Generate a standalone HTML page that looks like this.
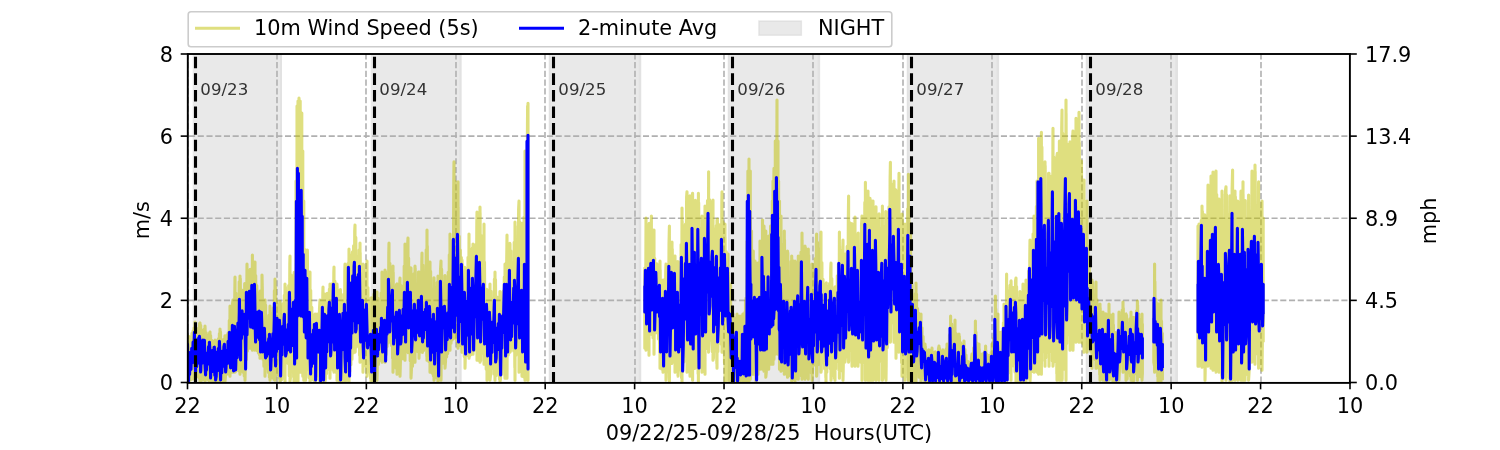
<!DOCTYPE html>
<html lang="en"><head><meta charset="utf-8"><title>10m Wind Speed</title>
<style>html,body{margin:0;padding:0;background:#fff;}body{width:1500px;height:450px;overflow:hidden;}svg{display:block;font-family:"DejaVu Sans", "Liberation Sans", sans-serif;}svg{will-change:transform;}.t14{font-size:20.83px;fill:#000;}.t10{font-size:16.67px;fill:#333;}</style></head><body>
<svg width="1500" height="450" viewBox="0 0 1500 450">
<rect x="0" y="0" width="1500" height="450" fill="#fff"/>
<defs><clipPath id="ax"><rect x="187.5" y="54" width="1162.5" height="328.5"/></clipPath></defs>
<g clip-path="url(#ax)">
<rect x="192.70" y="54" width="89.30" height="328.5" fill="#d3d3d3" fill-opacity="0.5"/>
<rect x="280.00" y="54" width="2.00" height="328.5" fill="#d3d3d3" fill-opacity="0.3"/>
<rect x="370.80" y="54" width="90.80" height="328.5" fill="#d3d3d3" fill-opacity="0.5"/>
<rect x="459.45" y="54" width="2.15" height="328.5" fill="#d3d3d3" fill-opacity="0.3"/>
<rect x="548.80" y="54" width="92.40" height="328.5" fill="#d3d3d3" fill-opacity="0.5"/>
<rect x="638.90" y="54" width="2.30" height="328.5" fill="#d3d3d3" fill-opacity="0.3"/>
<rect x="548.80" y="54" width="2.00" height="328.5" fill="#d3d3d3" fill-opacity="0.3"/>
<rect x="727.80" y="54" width="92.30" height="328.5" fill="#d3d3d3" fill-opacity="0.5"/>
<rect x="817.65" y="54" width="2.45" height="328.5" fill="#d3d3d3" fill-opacity="0.3"/>
<rect x="727.80" y="54" width="2.00" height="328.5" fill="#d3d3d3" fill-opacity="0.3"/>
<rect x="906.80" y="54" width="92.30" height="328.5" fill="#d3d3d3" fill-opacity="0.5"/>
<rect x="996.50" y="54" width="2.60" height="328.5" fill="#d3d3d3" fill-opacity="0.3"/>
<rect x="906.80" y="54" width="2.00" height="328.5" fill="#d3d3d3" fill-opacity="0.3"/>
<rect x="1085.80" y="54" width="92.20" height="328.5" fill="#d3d3d3" fill-opacity="0.5"/>
<rect x="1175.25" y="54" width="2.75" height="328.5" fill="#d3d3d3" fill-opacity="0.3"/>
<rect x="1085.80" y="54" width="2.00" height="328.5" fill="#d3d3d3" fill-opacity="0.3"/>
<line x1="188.00" y1="382.5" x2="188.00" y2="54" stroke="#b0b0b0" stroke-width="1.6" stroke-dasharray="6.1 2.63"/>
<line x1="277.00" y1="382.5" x2="277.00" y2="54" stroke="#b0b0b0" stroke-width="1.6" stroke-dasharray="6.1 2.63"/>
<line x1="366.00" y1="382.5" x2="366.00" y2="54" stroke="#b0b0b0" stroke-width="1.6" stroke-dasharray="6.1 2.63"/>
<line x1="456.00" y1="382.5" x2="456.00" y2="54" stroke="#b0b0b0" stroke-width="1.6" stroke-dasharray="6.1 2.63"/>
<line x1="545.00" y1="382.5" x2="545.00" y2="54" stroke="#b0b0b0" stroke-width="1.6" stroke-dasharray="6.1 2.63"/>
<line x1="635.00" y1="382.5" x2="635.00" y2="54" stroke="#b0b0b0" stroke-width="1.6" stroke-dasharray="6.1 2.63"/>
<line x1="724.00" y1="382.5" x2="724.00" y2="54" stroke="#b0b0b0" stroke-width="1.6" stroke-dasharray="6.1 2.63"/>
<line x1="813.00" y1="382.5" x2="813.00" y2="54" stroke="#b0b0b0" stroke-width="1.6" stroke-dasharray="6.1 2.63"/>
<line x1="903.00" y1="382.5" x2="903.00" y2="54" stroke="#b0b0b0" stroke-width="1.6" stroke-dasharray="6.1 2.63"/>
<line x1="992.00" y1="382.5" x2="992.00" y2="54" stroke="#b0b0b0" stroke-width="1.6" stroke-dasharray="6.1 2.63"/>
<line x1="1082.00" y1="382.5" x2="1082.00" y2="54" stroke="#b0b0b0" stroke-width="1.6" stroke-dasharray="6.1 2.63"/>
<line x1="1171.00" y1="382.5" x2="1171.00" y2="54" stroke="#b0b0b0" stroke-width="1.6" stroke-dasharray="6.1 2.63"/>
<line x1="1261.00" y1="382.5" x2="1261.00" y2="54" stroke="#b0b0b0" stroke-width="1.6" stroke-dasharray="6.1 2.63"/>
<line x1="1350.00" y1="382.5" x2="1350.00" y2="54" stroke="#b0b0b0" stroke-width="1.6" stroke-dasharray="6.1 2.63"/>
<line x1="187.5" y1="300.38" x2="1350" y2="300.38" stroke="#b0b0b0" stroke-width="1.6" stroke-dasharray="6.1 2.63" stroke-dashoffset="-1.5"/>
<line x1="187.5" y1="218.25" x2="1350" y2="218.25" stroke="#b0b0b0" stroke-width="1.6" stroke-dasharray="6.1 2.63" stroke-dashoffset="-1.5"/>
<line x1="187.5" y1="136.12" x2="1350" y2="136.12" stroke="#b0b0b0" stroke-width="1.6" stroke-dasharray="6.1 2.63" stroke-dashoffset="-1.5"/>
<g fill="none" stroke-linejoin="round" stroke-linecap="butt">
<path d="M187.5 336.2 L188.0 336.0 L188.0 381.4 L188.1 381.4 L188.6 336.4 L189.2 381.0 L189.7 337.5 L190.2 380.1 L190.8 336.7 L191.3 379.7 L191.9 333.4 L192.4 378.6 L193.0 331.1 L193.6 376.9 L194.1 327.7 L194.7 379.2 L195.0 322.0 L195.0 380.2 L195.2 324.0 L195.8 373.8 L196.3 328.1 L196.8 375.4 L197.4 331.3 L197.9 376.4 L198.5 331.5 L199.1 378.1 L199.6 323.5 L200.0 323.0 L200.0 381.2 L200.2 381.0 L200.7 325.4 L201.2 381.0 L201.8 330.3 L202.3 379.5 L202.9 331.1 L203.4 377.1 L204.0 329.2 L204.6 380.3 L205.0 326.0 L205.0 381.4 L205.1 327.6 L205.7 377.5 L206.2 332.8 L206.8 378.2 L207.3 335.4 L207.8 379.4 L208.4 336.4 L208.9 380.6 L209.5 333.3 L210.0 332.0 L210.0 381.4 L210.1 381.4 L210.6 335.5 L211.2 381.0 L211.7 340.4 L212.2 380.9 L212.8 341.3 L213.3 380.7 L213.9 341.3 L214.4 381.2 L215.0 340.0 L215.0 340.0 L215.0 381.4 L215.6 381.3 L216.1 341.5 L216.7 381.1 L217.2 340.8 L217.8 381.1 L218.3 338.7 L218.8 381.1 L219.4 333.5 L219.9 381.4 L220.0 329.0 L220.0 381.4 L220.5 331.7 L221.1 379.7 L221.6 339.7 L222.2 380.3 L222.7 340.0 L223.2 381.2 L223.8 339.3 L224.3 380.9 L224.9 335.9 L225.0 336.0 L225.0 381.4 L225.4 377.1 L226.0 336.9 L226.6 373.8 L227.1 334.8 L227.7 373.9 L228.2 332.8 L228.8 373.8 L229.3 320.4 L229.8 374.5 L230.0 306.0 L230.0 376.2 L230.4 310.8 L230.9 372.5 L231.5 318.2 L232.1 371.6 L232.6 303.2 L233.0 300.0 L233.0 372.2 L233.2 372.2 L233.7 319.2 L234.2 371.7 L234.8 293.1 L235.0 277.0 L235.0 372.2 L235.3 371.9 L235.9 293.0 L236.4 370.0 L237.0 303.8 L237.6 369.8 L238.1 298.4 L238.7 370.6 L239.2 281.8 L239.8 373.0 L240.0 276.0 L240.0 374.2 L240.3 278.4 L240.8 367.6 L241.4 290.0 L241.9 369.3 L242.5 290.3 L243.1 372.2 L243.6 299.4 L244.2 376.0 L244.7 283.5 L245.0 284.0 L245.0 380.2 L245.2 370.5 L245.8 293.5 L246.3 359.6 L246.9 277.0 L247.0 264.0 L247.4 351.0 L248.0 273.3 L248.6 343.7 L249.1 274.6 L249.7 345.8 L250.0 270.0 L250.0 348.2 L250.2 269.2 L250.8 339.7 L251.3 280.6 L251.9 336.9 L252.4 262.5 L252.4 255.0 L252.4 350.2 L252.9 348.5 L253.5 275.3 L254.1 348.9 L254.6 266.8 L255.0 262.0 L255.0 350.2 L255.2 350.1 L255.7 275.6 L256.2 349.5 L256.8 285.6 L257.4 350.8 L257.9 293.2 L258.4 352.9 L259.0 294.9 L259.6 355.3 L260.0 292.0 L260.0 358.2 L260.1 291.1 L260.6 354.9 L261.2 301.9 L261.8 354.9 L262.0 275.0 L262.3 287.5 L262.9 359.2 L263.4 308.2 L263.9 366.3 L264.5 301.7 L265.0 300.0 L265.0 376.2 L265.1 371.4 L265.6 305.1 L266.1 363.9 L266.7 323.7 L267.2 368.1 L267.8 322.0 L268.4 372.4 L268.9 315.2 L269.4 377.3 L270.0 306.0 L270.0 306.0 L270.0 380.2 L270.6 376.5 L271.1 314.2 L271.6 373.8 L272.2 313.5 L272.8 377.8 L273.3 307.8 L273.9 379.4 L274.4 290.5 L274.9 380.2 L275.0 279.0 L275.0 380.2 L275.5 287.3 L276.1 375.0 L276.6 301.0 L277.1 372.3 L277.7 304.5 L278.2 374.4 L278.8 306.7 L279.4 378.4 L279.9 301.5 L280.0 302.0 L280.0 381.4 L280.4 379.6 L281.0 307.5 L281.6 379.8 L282.1 306.9 L282.6 378.3 L283.2 303.5 L283.8 364.2 L284.3 295.2 L284.9 378.9 L285.0 284.0 L285.0 381.4 L285.4 286.9 L285.9 360.0 L286.5 300.5 L287.1 359.0 L287.6 294.8 L288.1 363.4 L288.7 285.6 L289.2 375.7 L289.8 263.8 L290.0 256.0 L290.0 381.4 L290.4 378.1 L290.9 274.8 L291.4 369.8 L292.0 289.6 L292.6 364.1 L293.1 280.6 L293.6 377.1 L294.0 274.0 L294.0 381.4 L294.2 272.2 L294.8 373.9 L295.3 289.7 L295.9 380.3 L296.0 181.0 L296.0 381.4 L296.4 218.2 L296.9 380.2 L297.0 106.0 L297.0 381.4 L297.5 176.6 L298.0 101.0 L298.0 381.4 L298.1 372.2 L298.6 115.4 L299.0 98.0 L299.0 372.2 L299.1 372.2 L299.7 119.6 L300.2 101.0 L300.2 372.2 L300.2 372.2 L300.8 131.7 L301.4 372.2 L301.8 113.0 L301.8 372.2 L301.9 175.7 L302.4 372.2 L302.8 151.0 L302.8 376.2 L303.0 211.9 L303.6 374.4 L303.8 201.0 L303.8 380.2 L304.1 251.5 L304.6 370.9 L305.2 252.5 L305.6 250.0 L305.6 380.2 L305.8 374.3 L306.3 250.8 L306.9 357.7 L307.4 267.8 L307.4 250.0 L307.9 369.8 L308.5 288.0 L309.1 377.7 L309.6 278.7 L310.0 272.0 L310.0 381.4 L310.1 381.0 L310.7 290.4 L311.2 379.7 L311.8 307.2 L312.4 379.3 L312.9 315.6 L313.5 379.8 L314.0 316.2 L314.6 381.1 L315.0 314.0 L315.0 381.4 L315.1 314.0 L315.6 380.6 L316.2 318.7 L316.8 375.7 L317.0 314.0 L317.3 314.0 L317.9 375.0 L318.4 320.1 L319.0 379.9 L319.5 308.7 L320.0 300.0 L320.0 381.4 L320.1 381.4 L320.6 304.2 L321.1 381.4 L321.7 307.6 L322.2 381.4 L322.8 293.1 L323.0 287.0 L323.0 381.4 L323.4 380.7 L323.9 304.5 L324.5 379.0 L325.0 294.0 L325.0 294.0 L325.0 381.4 L325.6 378.7 L326.1 300.2 L326.6 373.5 L327.2 293.4 L327.8 366.6 L328.3 299.0 L328.9 369.6 L329.4 289.1 L330.0 376.1 L330.0 284.0 L330.0 378.2 L330.5 285.9 L331.1 365.9 L331.6 290.4 L332.1 367.8 L332.7 283.4 L333.2 370.2 L333.8 272.9 L334.0 267.0 L334.0 372.2 L334.4 366.6 L334.9 281.0 L335.5 361.9 L336.0 287.9 L336.6 373.0 L337.0 284.0 L337.0 380.2 L337.1 286.6 L337.6 378.7 L338.2 294.0 L338.8 380.5 L339.3 293.1 L339.9 381.0 L340.0 290.0 L340.0 381.4 L340.4 289.6 L341.0 381.2 L341.5 301.0 L342.1 380.7 L342.6 300.3 L343.1 379.0 L343.7 294.3 L344.2 375.5 L344.8 271.3 L345.0 264.0 L345.0 381.4 L345.4 380.8 L345.9 271.3 L346.5 379.3 L347.0 276.4 L347.6 380.3 L348.1 263.2 L348.6 377.4 L349.0 249.0 L349.0 381.4 L349.2 252.7 L349.8 371.6 L350.3 256.1 L350.9 364.8 L351.4 255.2 L352.0 359.2 L352.5 251.7 L353.1 352.9 L353.6 245.8 L354.1 350.9 L354.7 231.0 L355.0 225.0 L355.0 352.2 L355.2 351.5 L355.8 237.4 L356.4 346.9 L356.9 256.6 L357.5 344.6 L358.0 256.3 L358.6 342.5 L359.1 249.9 L359.6 355.6 L360.0 243.0 L360.0 362.2 L360.2 252.8 L360.8 357.4 L361.3 266.9 L361.9 356.6 L362.4 266.4 L363.0 367.7 L363.0 264.0 L363.0 372.2 L363.5 264.6 L364.1 364.9 L364.6 286.1 L365.1 357.8 L365.7 285.5 L366.2 366.8 L366.8 270.2 L367.0 261.0 L367.0 376.2 L367.4 372.7 L367.9 287.5 L368.5 368.0 L369.0 305.5 L369.6 371.2 L370.1 304.0 L370.6 378.5 L371.0 298.0 L371.0 381.4 L371.2 297.7 L371.8 376.3 L372.3 311.5 L372.9 379.7 L373.4 299.9 L374.0 381.1 L374.0 294.0 L374.0 381.4 L374.5 296.0 L375.1 377.5 L375.6 319.8 L376.1 371.7 L376.7 293.0 L377.0 292.0 L377.0 380.2 L377.2 373.5 L377.8 298.0 L378.4 364.4 L378.9 312.2 L379.5 358.0 L380.0 314.4 L380.6 358.8 L381.1 293.1 L381.6 361.2 L382.0 272.0 L382.0 362.2 L382.2 276.0 L382.8 360.4 L383.3 290.5 L383.9 359.8 L384.4 275.1 L385.0 362.0 L385.0 270.0 L385.0 362.2 L385.5 271.4 L386.1 354.4 L386.6 284.7 L387.1 346.6 L387.7 279.1 L388.2 342.9 L388.8 252.4 L389.0 243.0 L389.0 342.2 L389.4 342.0 L389.9 263.4 L390.5 339.8 L391.0 277.5 L391.6 345.6 L392.1 273.0 L392.6 358.3 L393.0 266.0 L393.0 372.2 L393.2 272.3 L393.8 366.3 L394.3 286.7 L394.9 366.1 L395.4 295.3 L396.0 368.0 L396.5 284.6 L397.0 284.0 L397.0 374.2 L397.1 373.5 L397.6 285.9 L398.1 364.4 L398.7 301.2 L399.2 358.8 L399.8 280.8 L400.0 278.0 L400.0 376.2 L400.4 362.4 L400.9 285.2 L401.5 351.5 L402.0 289.8 L402.6 358.8 L403.1 286.7 L403.6 358.3 L404.2 266.0 L404.8 357.2 L405.0 244.0 L405.0 360.2 L405.3 250.1 L405.9 347.3 L406.4 273.5 L407.0 340.2 L407.5 246.4 L408.0 238.0 L408.0 352.2 L408.1 352.6 L408.6 258.1 L409.1 351.5 L409.7 276.8 L410.2 360.8 L410.8 267.8 L411.0 268.0 L411.0 378.2 L411.4 370.5 L411.9 275.1 L412.5 366.2 L413.0 284.0 L413.6 362.4 L414.1 273.6 L414.6 361.1 L415.0 266.0 L415.0 362.2 L415.2 268.1 L415.8 347.8 L416.3 289.9 L416.9 346.4 L417.4 288.5 L418.0 351.7 L418.5 272.1 L419.0 272.0 L419.0 358.2 L419.1 354.5 L419.6 274.0 L420.1 341.3 L420.7 286.6 L421.2 346.5 L421.8 261.9 L422.0 253.0 L422.0 352.2 L422.4 352.3 L422.9 265.0 L423.5 350.6 L424.0 276.3 L424.6 348.8 L425.1 273.1 L425.6 348.1 L426.2 249.7 L426.8 356.3 L427.0 230.0 L427.0 360.2 L427.3 246.0 L427.9 356.2 L428.4 277.7 L429.0 361.8 L429.5 265.9 L430.0 262.0 L430.0 372.2 L430.1 367.6 L430.6 271.3 L431.1 371.5 L431.7 290.0 L432.2 373.2 L432.8 295.0 L433.4 376.0 L433.9 277.8 L434.0 278.0 L434.0 380.2 L434.5 377.7 L435.0 287.2 L435.6 377.5 L436.1 294.4 L436.7 376.3 L437.2 282.4 L437.8 379.9 L438.0 276.0 L438.0 381.4 L438.3 276.4 L438.9 376.9 L439.4 284.5 L440.0 364.6 L440.5 269.9 L441.0 261.0 L441.0 380.2 L441.1 376.0 L441.6 269.1 L442.2 363.5 L442.7 283.4 L443.2 353.9 L443.8 286.6 L444.4 361.3 L444.9 275.6 L445.0 276.0 L445.0 368.2 L445.5 361.6 L446.0 284.6 L446.6 357.0 L447.1 283.1 L447.7 353.4 L448.2 272.2 L448.8 349.9 L449.3 254.8 L449.9 347.0 L450.0 234.0 L450.0 350.2 L450.4 240.7 L451.0 343.3 L451.5 259.5 L452.1 340.0 L452.6 240.9 L453.2 338.7 L453.7 188.8 L454.0 161.7 L454.0 338.2 L454.2 338.1 L454.8 181.1 L455.4 336.8 L455.9 210.5 L456.5 340.3 L457.0 205.4 L457.6 343.8 L458.0 181.7 L458.0 348.2 L458.1 207.1 L458.7 345.4 L459.2 236.4 L459.8 344.4 L460.3 250.0 L460.9 345.8 L461.4 257.6 L462.0 350.8 L462.0 260.0 L462.0 352.2 L462.5 264.6 L463.1 350.4 L463.6 274.8 L464.2 356.6 L464.7 267.2 L465.0 268.0 L465.0 368.2 L465.2 361.4 L465.8 271.5 L466.4 355.6 L466.9 272.8 L467.5 354.8 L468.0 257.4 L468.6 355.5 L469.0 234.0 L469.0 358.2 L469.1 243.3 L469.7 356.1 L470.2 249.2 L470.8 354.8 L471.3 265.8 L471.9 354.2 L472.4 247.8 L473.0 354.2 L473.0 244.0 L473.0 354.2 L473.5 244.8 L474.1 350.3 L474.6 259.5 L475.2 346.3 L475.7 244.6 L476.2 346.6 L476.8 223.2 L477.0 212.0 L477.0 360.2 L477.4 358.9 L477.9 222.6 L478.5 360.1 L479.0 222.5 L479.6 361.0 L480.0 207.0 L480.0 362.2 L480.1 212.5 L480.7 360.6 L481.2 235.6 L481.8 353.1 L482.3 258.4 L482.9 353.3 L483.4 241.8 L484.0 363.2 L484.0 224.0 L484.0 364.2 L484.5 262.0 L485.1 364.1 L485.6 289.7 L486.2 369.3 L486.7 289.4 L487.0 290.0 L487.0 380.2 L487.2 373.2 L487.8 293.5 L488.4 368.4 L488.9 298.4 L489.5 371.8 L490.0 286.4 L490.0 284.0 L490.0 380.2 L490.6 374.5 L491.1 291.4 L491.7 366.8 L492.2 300.0 L492.8 368.3 L493.3 298.3 L493.9 374.0 L494.4 279.1 L495.0 379.9 L495.0 272.0 L495.0 380.2 L495.5 279.5 L496.1 375.7 L496.6 296.7 L497.2 372.9 L497.7 297.3 L498.2 374.1 L498.8 301.5 L499.4 379.3 L499.9 291.6 L500.0 292.0 L500.0 381.4 L500.5 379.2 L501.0 297.0 L501.6 374.4 L502.1 296.9 L502.7 368.2 L503.2 291.1 L503.8 363.8 L504.3 277.1 L504.9 376.0 L505.0 264.0 L505.0 378.2 L505.4 268.5 L506.0 376.9 L506.5 277.4 L507.0 235.0 L507.0 378.2 L507.1 367.2 L507.6 246.3 L508.2 354.9 L508.7 261.9 L509.2 351.1 L509.8 243.4 L510.0 244.0 L510.0 352.2 L510.4 351.1 L510.9 250.7 L511.5 345.9 L512.0 262.2 L512.5 347.2 L513.1 264.1 L513.7 351.1 L514.2 242.3 L514.8 367.5 L515.0 222.0 L515.0 380.2 L515.3 226.0 L515.9 355.2 L516.4 248.4 L517.0 348.4 L517.5 255.3 L518.0 347.4 L518.6 209.4 L519.0 201.0 L519.0 372.2 L519.2 371.6 L519.7 221.7 L520.2 367.0 L520.8 248.4 L521.4 371.4 L521.9 223.2 L522.0 224.0 L522.0 376.2 L522.5 375.2 L523.0 236.6 L523.5 376.7 L524.1 217.1 L524.7 378.1 L525.0 151.0 L525.0 380.2 L525.2 175.3 L525.8 374.4 L526.3 176.9 L526.9 371.3 L527.4 134.3 L527.6 106.0 L527.6 380.2 L528.0 380.2 L528.0 123.6 L528.0 103.3 L528.0 111.0 L528.0 380.2 L528.0 380.2 M644.8 274.1 L644.8 270.0 L644.8 268.0 L644.8 332.2 L644.8 348.2 L645.3 348.3 L645.9 250.5 L646.0 218.0 L646.0 350.2 L646.4 343.7 L647.0 237.3 L647.5 339.1 L648.1 239.4 L648.6 345.7 L649.0 224.0 L649.0 355.2 L649.2 223.3 L649.8 333.3 L650.3 251.4 L650.8 322.2 L651.4 222.5 L651.4 216.0 L651.4 334.2 L651.9 334.6 L652.5 253.7 L653.0 337.7 L653.6 241.3 L654.0 230.0 L654.0 354.2 L654.1 341.8 L654.7 258.2 L655.2 332.7 L655.8 264.6 L656.3 332.7 L656.4 264.0 L656.4 332.2 L656.9 263.8 L657.4 327.3 L658.0 270.6 L658.5 339.0 L659.1 268.0 L659.6 352.2 L660.0 261.0 L660.0 368.2 L660.2 269.9 L660.8 363.7 L661.3 281.1 L661.8 369.1 L662.4 281.2 L662.9 370.5 L663.0 280.0 L663.0 372.2 L663.5 280.0 L664.0 364.3 L664.6 288.7 L665.1 368.7 L665.7 272.0 L666.0 264.0 L666.0 380.2 L666.2 376.1 L666.8 269.8 L667.3 371.6 L667.9 264.6 L668.4 365.1 L669.0 243.9 L669.4 226.0 L669.4 381.4 L669.5 371.5 L670.1 244.9 L670.6 363.3 L671.2 254.8 L671.8 363.4 L672.0 242.0 L672.0 362.2 L672.3 249.0 L672.8 355.0 L673.4 261.0 L673.9 361.7 L674.5 257.8 L675.0 256.0 L675.0 372.2 L675.0 368.1 L675.6 261.2 L676.1 364.1 L676.7 275.4 L677.2 357.5 L677.8 261.6 L678.0 262.0 L678.0 376.2 L678.3 371.3 L678.9 267.2 L679.4 363.7 L680.0 265.9 L680.5 369.7 L681.1 244.5 L681.6 377.9 L682.0 208.0 L682.0 381.4 L682.2 221.5 L682.8 371.8 L683.3 225.7 L683.8 362.1 L684.4 226.9 L684.9 355.9 L685.5 224.0 L686.0 353.6 L686.6 196.9 L687.0 191.7 L687.0 372.2 L687.1 372.1 L687.7 201.6 L688.2 370.1 L688.8 230.0 L689.3 372.1 L689.9 195.9 L690.0 196.0 L690.0 376.2 L690.4 374.1 L691.0 226.1 L691.5 374.9 L692.1 196.9 L692.6 193.3 L692.6 380.2 L692.6 373.9 L693.2 204.7 L693.8 366.5 L694.3 211.8 L694.8 368.5 L695.0 201.0 L695.0 368.2 L695.4 200.4 L695.9 361.1 L696.5 225.1 L697.0 360.0 L697.6 205.8 L698.1 373.8 L698.4 193.3 L698.4 381.4 L698.7 202.8 L699.2 367.7 L699.8 228.2 L700.3 360.1 L700.9 230.2 L701.4 366.1 L702.0 216.0 L702.0 216.0 L702.0 372.2 L702.5 371.3 L703.1 224.6 L703.6 370.4 L704.2 218.6 L704.8 368.0 L705.0 206.0 L705.0 374.2 L705.3 209.0 L705.8 348.8 L706.4 219.4 L706.9 330.9 L707.5 200.5 L708.0 343.4 L708.6 183.1 L708.6 171.7 L708.6 352.2 L709.1 342.8 L709.7 199.9 L710.2 331.7 L710.8 202.0 L711.3 340.3 L711.9 215.0 L712.4 351.7 L713.0 206.0 L713.0 200.0 L713.0 360.2 L713.5 357.9 L714.1 229.0 L714.6 344.2 L715.2 242.8 L715.8 351.1 L716.3 225.5 L716.8 363.5 L717.0 220.0 L717.0 368.2 L717.4 219.0 L717.9 351.4 L718.5 234.5 L719.0 338.0 L719.6 224.7 L720.1 335.3 L720.7 226.5 L721.2 344.2 L721.8 202.5 L722.0 191.7 L722.0 352.2 L722.3 351.6 L722.9 221.8 L723.4 348.6 L724.0 234.3 L724.5 363.0 L725.0 224.0 L725.0 381.4 L725.1 237.0 L725.6 376.2 L726.2 251.5 L726.8 380.2 L727.3 260.5 L727.8 380.3 L728.0 254.0 L728.0 380.2 L728.4 272.5 L728.9 380.3 L729.5 290.8 L730.0 380.7 L730.6 299.0 L730.6 284.0 L730.6 381.4 L731.1 375.2 L731.7 318.3 L732.2 377.0 L732.8 314.0 L733.0 314.0 L733.0 381.4 L733.3 381.4 L733.9 317.4 L734.4 381.4 L735.0 322.7 L735.5 381.4 L736.1 318.3 L736.6 381.4 L737.0 314.0 L737.0 381.4 L737.2 314.9 L737.8 381.2 L738.3 332.8 L738.8 381.2 L739.4 320.2 L739.9 381.2 L740.0 316.0 L740.0 381.2 L740.5 317.2 L741.0 378.4 L741.6 335.7 L742.1 376.4 L742.7 315.0 L743.0 314.0 L743.0 381.2 L743.2 380.5 L743.8 318.9 L744.3 378.3 L744.9 312.3 L745.4 381.1 L745.5 301.0 L745.5 381.2 L746.0 298.0 L746.5 380.4 L747.1 241.3 L747.6 381.0 L747.9 171.0 L747.9 381.2 L748.2 197.4 L748.8 379.7 L749.0 159.0 L749.0 381.2 L749.3 189.2 L749.8 376.1 L750.3 171.0 L750.3 379.2 L750.4 215.6 L750.9 374.2 L751.5 256.0 L751.5 231.0 L751.5 374.2 L752.0 374.2 L752.6 253.9 L753.1 374.2 L753.3 251.0 L753.3 374.2 L753.7 264.5 L754.2 374.2 L754.8 290.4 L755.0 261.0 L755.0 374.2 L755.3 374.2 L755.9 263.0 L756.0 263.0 L756.0 381.2 L756.4 375.1 L757.0 289.2 L757.5 366.5 L758.0 263.0 L758.0 374.2 L758.1 263.0 L758.6 361.4 L759.2 290.3 L759.8 364.8 L760.0 241.0 L760.0 369.2 L760.3 250.9 L760.8 365.0 L761.4 258.0 L761.9 366.7 L762.5 246.6 L762.5 220.0 L762.5 369.2 L763.0 369.2 L763.6 230.4 L764.0 226.0 L764.0 371.2 L764.1 369.8 L764.7 231.2 L765.2 371.4 L765.8 248.8 L765.8 231.0 L765.8 377.2 L766.3 372.4 L766.9 263.0 L767.4 369.3 L768.0 245.0 L768.5 366.4 L768.7 236.0 L768.7 369.2 L769.1 271.1 L769.6 343.6 L770.2 259.0 L770.6 226.0 L770.6 364.2 L770.8 364.2 L771.3 245.3 L771.8 364.0 L772.3 201.0 L772.3 364.2 L772.4 226.8 L772.9 358.6 L773.0 181.0 L773.0 364.2 L773.5 201.0 L774.0 168.3 L774.0 359.2 L774.0 354.4 L774.6 188.9 L775.1 353.0 L775.3 141.0 L775.3 354.2 L775.7 160.9 L776.2 352.4 L776.8 165.0 L777.0 100.0 L777.0 352.2 L777.3 352.5 L777.9 195.4 L778.0 141.0 L778.0 354.2 L778.4 352.7 L778.6 181.0 L778.6 354.2 L779.0 210.2 L779.5 201.0 L779.5 369.2 L779.5 360.3 L780.1 260.5 L780.6 368.4 L781.0 216.0 L781.0 371.2 L781.2 243.3 L781.8 365.5 L782.3 262.6 L782.8 364.9 L783.4 246.2 L783.9 371.0 L784.3 231.0 L784.3 374.2 L784.5 239.8 L785.0 369.1 L785.6 272.7 L786.1 371.5 L786.7 258.9 L787.2 375.2 L787.5 251.0 L787.5 377.2 L787.8 252.8 L788.3 374.7 L788.9 291.2 L789.4 374.5 L790.0 288.6 L790.5 375.9 L791.1 261.4 L791.6 380.0 L791.7 256.0 L791.7 381.2 L792.2 259.8 L792.8 379.4 L793.3 282.7 L793.8 375.9 L794.4 263.6 L794.9 380.1 L795.0 261.0 L795.0 381.2 L795.5 262.2 L796.0 378.4 L796.6 288.2 L797.1 375.2 L797.7 262.9 L798.2 378.7 L798.3 256.0 L798.3 379.2 L798.8 258.3 L799.3 367.2 L799.9 273.0 L800.4 369.7 L801.0 252.1 L801.5 376.2 L802.0 233.0 L802.0 379.2 L802.1 239.8 L802.6 368.4 L803.2 256.1 L803.8 358.6 L804.3 252.5 L804.8 376.2 L805.0 246.0 L805.0 379.2 L805.4 247.5 L805.9 368.6 L806.5 282.3 L807.0 372.1 L807.6 255.3 L808.1 378.4 L808.3 249.0 L808.3 379.2 L808.7 255.5 L809.2 371.3 L809.8 279.5 L810.3 364.7 L810.9 277.8 L811.4 373.3 L812.0 264.0 L812.0 264.0 L812.0 380.2 L812.5 371.5 L813.1 274.5 L813.6 361.7 L814.2 266.0 L814.8 364.9 L815.3 258.5 L815.8 358.2 L816.4 243.1 L816.6 234.0 L816.6 376.2 L816.9 372.5 L817.5 242.4 L818.0 364.8 L818.6 264.4 L819.1 357.8 L819.7 249.1 L820.2 362.8 L820.8 242.4 L821.0 232.0 L821.0 372.2 L821.3 369.7 L821.9 262.6 L822.4 362.9 L823.0 279.3 L823.5 362.6 L824.1 284.5 L824.6 368.7 L825.2 284.3 L825.8 377.5 L826.0 284.0 L826.0 381.4 L826.3 282.7 L826.8 372.2 L827.4 288.4 L827.9 363.4 L828.5 286.6 L829.0 360.5 L829.6 283.3 L830.1 368.6 L830.7 269.3 L831.0 263.0 L831.0 380.2 L831.2 378.7 L831.8 278.6 L832.3 372.5 L832.9 289.2 L833.4 375.4 L834.0 289.0 L834.5 378.6 L835.0 288.0 L835.0 380.2 L835.1 286.7 L835.6 368.8 L836.2 287.0 L836.8 360.3 L837.3 275.7 L837.8 361.5 L838.4 264.3 L838.9 369.9 L839.4 232.0 L839.4 378.2 L839.5 246.0 L840.0 371.3 L840.6 250.6 L841.1 359.3 L841.7 254.3 L842.2 366.6 L842.8 247.0 L843.0 240.0 L843.0 380.2 L843.3 366.3 L843.9 265.6 L844.4 362.2 L845.0 254.0 L845.0 254.0 L845.0 362.2 L845.5 357.0 L846.1 259.6 L846.6 346.7 L847.2 246.2 L847.8 350.4 L848.3 220.2 L848.6 196.0 L848.6 362.2 L848.8 360.1 L849.4 222.3 L849.9 350.5 L850.5 251.4 L851.0 338.1 L851.6 223.5 L852.0 224.0 L852.0 366.2 L852.1 362.0 L852.7 229.2 L853.2 345.0 L853.8 240.8 L854.3 349.5 L854.9 223.2 L855.0 217.0 L855.0 366.2 L855.4 350.6 L856.0 235.6 L856.5 349.7 L857.1 243.1 L857.6 362.4 L858.0 234.0 L858.0 366.2 L858.2 233.1 L858.8 349.4 L859.3 249.3 L859.8 352.4 L860.4 253.1 L860.9 362.2 L861.5 224.9 L862.0 216.0 L862.0 380.2 L862.0 373.8 L862.6 221.2 L863.1 353.7 L863.7 226.9 L864.2 362.6 L864.8 202.4 L865.3 379.4 L865.4 182.3 L865.4 380.2 L865.9 190.8 L866.4 375.9 L867.0 212.4 L867.5 379.1 L868.0 191.0 L868.0 380.2 L868.1 195.7 L868.6 380.2 L869.2 216.4 L869.8 380.2 L870.0 198.3 L870.0 380.2 L870.3 199.7 L870.8 380.2 L871.4 224.5 L871.9 380.2 L872.5 204.1 L873.0 201.0 L873.0 380.2 L873.0 380.1 L873.6 209.0 L874.1 378.2 L874.7 231.1 L875.2 378.7 L875.8 209.1 L876.0 206.7 L876.0 380.2 L876.3 366.0 L876.9 224.1 L877.4 357.7 L878.0 234.4 L878.5 372.8 L879.0 214.0 L879.0 380.2 L879.1 213.8 L879.6 360.3 L880.2 242.6 L880.8 352.5 L881.3 228.9 L881.8 361.5 L882.4 208.8 L882.4 206.0 L882.4 380.2 L882.9 378.1 L883.5 226.2 L884.0 373.7 L884.6 237.6 L885.1 374.5 L885.7 211.5 L886.0 212.0 L886.0 380.2 L886.2 365.6 L886.8 216.6 L887.3 347.6 L887.9 223.8 L888.4 333.2 L889.0 206.7 L889.5 335.0 L890.1 179.2 L890.4 162.3 L890.4 342.2 L890.6 338.9 L891.2 183.8 L891.8 323.1 L892.3 214.1 L892.8 313.4 L893.4 189.4 L894.0 340.1 L894.0 181.0 L894.0 342.2 L894.5 228.6 L895.0 316.0 L895.6 189.8 L896.0 191.0 L896.0 358.2 L896.1 344.4 L896.7 201.7 L897.2 326.3 L897.8 218.4 L898.3 338.0 L898.9 188.2 L899.0 173.3 L899.0 352.2 L899.5 350.3 L900.0 215.5 L900.5 351.5 L901.1 227.3 L901.6 362.8 L902.0 214.0 L902.0 376.2 L902.2 218.7 L902.8 371.8 L903.3 239.1 L903.8 374.7 L904.4 229.4 L905.0 378.4 L905.0 224.0 L905.0 380.2 L905.5 224.8 L906.0 358.0 L906.6 240.0 L907.1 364.0 L907.7 208.7 L908.2 377.8 L908.4 174.3 L908.4 380.2 L908.8 210.4 L909.3 380.2 L909.9 244.5 L910.5 380.2 L910.6 224.0 L910.6 380.2 L911.0 262.0 L911.5 372.5 L912.1 284.8 L912.6 374.4 L913.0 298.0 L913.0 381.4 L913.2 297.0 L913.8 370.3 L914.3 301.7 L914.8 371.0 L915.4 293.6 L916.0 380.9 L916.0 283.0 L916.0 381.4 L916.5 294.1 L917.0 366.5 L917.6 308.6 L918.1 367.9 L918.7 313.4 L919.2 377.2 L919.8 316.4 L920.3 374.5 L920.9 319.8 L921.0 314.0 L921.0 381.4 L921.5 377.1 L922.0 327.8 L922.5 374.5 L923.1 336.5 L923.6 378.1 L924.2 344.3 L924.8 381.2 L925.0 344.0 L925.0 381.4 L925.3 346.2 L925.8 381.3 L926.4 351.3 L927.0 381.4 L927.5 353.9 L928.0 381.4 L928.6 349.9 L929.0 350.0 L929.0 381.4 L929.1 381.4 L929.7 350.6 L930.2 381.4 L930.8 351.6 L931.3 381.4 L931.9 349.5 L932.0 348.0 L932.0 381.4 L932.5 381.4 L933.0 352.4 L933.5 381.4 L934.1 354.1 L934.6 381.4 L935.0 352.0 L935.0 381.4 L935.2 351.7 L935.8 381.4 L936.3 353.8 L936.8 381.4 L937.4 352.9 L938.0 381.4 L938.5 348.6 L939.0 346.0 L939.0 381.4 L939.0 381.4 L939.6 348.2 L940.1 381.4 L940.7 351.8 L941.2 381.4 L941.8 352.3 L942.3 381.4 L942.9 349.9 L943.0 350.0 L943.0 381.4 L943.5 381.4 L944.0 351.2 L944.5 381.4 L945.1 351.4 L945.6 381.4 L946.2 348.9 L946.8 381.4 L947.0 344.0 L947.0 381.4 L947.3 345.4 L947.8 381.4 L948.4 344.3 L949.0 381.4 L949.5 334.9 L950.0 381.4 L950.6 325.3 L950.6 316.0 L950.6 381.4 L951.1 381.4 L951.7 324.0 L952.2 380.7 L952.8 330.9 L953.3 380.3 L953.9 328.9 L954.5 380.8 L955.0 324.2 L955.0 320.0 L955.0 381.4 L955.5 381.0 L956.1 333.5 L956.6 380.8 L957.2 340.0 L957.8 381.3 L958.3 336.5 L958.8 381.4 L959.0 334.0 L959.0 381.4 L959.4 336.2 L960.0 381.4 L960.5 342.5 L961.0 381.4 L961.6 344.3 L962.1 381.4 L962.7 344.2 L963.2 381.4 L963.8 344.2 L964.0 341.0 L964.0 381.4 L964.3 381.4 L964.9 349.2 L965.5 381.4 L966.0 355.1 L966.5 381.4 L967.1 361.3 L967.6 381.4 L968.0 362.0 L968.0 381.4 L968.2 361.6 L968.8 381.4 L969.3 364.2 L969.8 381.4 L970.4 362.7 L971.0 381.4 L971.5 357.6 L972.0 354.0 L972.0 381.4 L972.0 381.4 L972.6 355.4 L973.1 381.4 L973.7 347.7 L974.2 381.4 L974.8 338.0 L975.3 381.4 L975.4 321.0 L975.4 381.4 L975.9 332.0 L976.5 381.4 L977.0 343.1 L977.5 381.4 L978.1 347.4 L978.6 381.4 L979.0 344.0 L979.0 381.4 L979.2 348.7 L979.8 381.4 L980.3 355.9 L980.8 381.4 L981.4 354.9 L982.0 381.4 L982.0 354.0 L982.0 381.4 L982.5 353.9 L983.0 381.4 L983.6 356.0 L984.1 381.4 L984.7 351.4 L985.2 381.4 L985.6 346.0 L985.6 381.4 L985.8 350.1 L986.3 381.4 L986.9 354.4 L987.5 381.4 L988.0 356.2 L988.5 381.4 L989.0 356.0 L989.0 381.4 L989.1 355.6 L989.6 381.4 L990.2 357.2 L990.8 381.4 L991.3 352.4 L991.8 381.4 L992.0 344.0 L992.0 381.4 L992.4 347.2 L993.0 381.4 L993.5 338.5 L994.0 381.4 L994.6 324.8 L995.1 381.4 L995.4 296.0 L995.4 381.4 L995.7 308.7 L996.2 381.4 L996.8 323.6 L997.3 381.4 L997.9 321.3 L998.0 314.0 L998.0 381.4 L998.5 381.4 L999.0 332.4 L999.5 381.4 L1000.1 335.3 L1000.6 381.4 L1001.0 334.0 L1001.0 381.4 L1001.2 332.0 L1001.8 381.4 L1002.3 336.3 L1002.8 381.4 L1003.4 322.8 L1004.0 381.4 L1004.0 304.0 L1004.0 381.4 L1004.5 311.5 L1005.0 381.4 L1005.6 307.9 L1006.1 381.4 L1006.6 274.0 L1006.6 381.4 L1006.7 286.7 L1007.2 379.5 L1007.8 291.0 L1008.3 371.0 L1008.9 292.0 L1009.5 364.6 L1010.0 285.3 L1010.5 373.5 L1011.0 281.0 L1011.0 380.2 L1011.1 280.9 L1011.6 360.6 L1012.2 291.4 L1012.8 361.8 L1013.3 287.5 L1013.8 365.9 L1014.4 290.8 L1015.0 372.1 L1015.5 281.0 L1016.0 278.0 L1016.0 381.4 L1016.0 381.3 L1016.6 286.5 L1017.1 381.1 L1017.7 302.7 L1018.2 381.1 L1018.8 298.5 L1019.3 381.3 L1019.9 291.6 L1020.0 292.0 L1020.0 381.4 L1020.5 381.3 L1021.0 298.6 L1021.5 381.2 L1022.1 299.2 L1022.6 381.3 L1023.0 284.0 L1023.0 381.4 L1023.2 286.7 L1023.8 381.2 L1024.3 301.3 L1024.8 380.9 L1025.4 285.2 L1026.0 381.4 L1026.0 280.0 L1026.0 381.4 L1026.5 281.6 L1027.0 378.5 L1027.6 285.1 L1028.2 376.5 L1028.7 271.0 L1029.2 377.9 L1029.8 254.0 L1030.0 240.0 L1030.0 381.4 L1030.3 375.9 L1030.9 246.5 L1031.5 371.3 L1032.0 245.5 L1032.5 371.5 L1033.1 233.7 L1033.7 371.8 L1034.0 216.0 L1034.0 372.2 L1034.2 222.0 L1034.8 368.7 L1035.3 226.2 L1035.8 360.5 L1036.4 206.4 L1037.0 371.6 L1037.0 181.0 L1037.0 372.2 L1037.5 189.2 L1038.0 372.2 L1038.6 176.3 L1038.6 138.3 L1038.6 374.2 L1039.2 369.1 L1039.7 155.2 L1040.2 353.5 L1040.8 142.3 L1041.3 370.8 L1041.4 132.3 L1041.4 374.2 L1041.9 147.0 L1042.5 351.7 L1043.0 175.2 L1043.5 344.2 L1044.1 172.1 L1044.7 360.9 L1045.0 161.7 L1045.0 366.2 L1045.2 165.8 L1045.8 357.7 L1046.3 205.6 L1046.8 345.7 L1047.4 201.7 L1048.0 352.5 L1048.5 173.5 L1049.0 173.3 L1049.0 366.2 L1049.0 365.4 L1049.6 177.4 L1050.2 347.5 L1050.7 194.8 L1051.2 351.6 L1051.8 176.0 L1052.3 360.9 L1052.9 142.9 L1053.0 128.3 L1053.0 366.2 L1053.5 359.3 L1054.0 157.2 L1054.5 349.8 L1055.1 174.9 L1055.7 361.6 L1056.2 161.8 L1056.8 373.7 L1057.0 155.0 L1057.0 380.2 L1057.3 153.3 L1057.8 371.1 L1058.4 182.1 L1059.0 369.5 L1059.4 141.0 L1059.4 380.2 L1059.5 147.4 L1060.0 380.2 L1060.6 197.4 L1061.2 380.2 L1061.7 127.9 L1062.0 110.0 L1062.0 380.2 L1062.2 378.6 L1062.8 133.4 L1063.3 369.3 L1063.9 164.4 L1064.5 356.4 L1065.0 137.2 L1065.5 360.0 L1066.0 100.0 L1066.0 380.2 L1066.1 113.6 L1066.7 343.4 L1067.2 144.0 L1067.8 326.1 L1068.3 171.1 L1068.8 334.7 L1069.4 146.9 L1070.0 349.4 L1070.0 141.7 L1070.0 350.2 L1070.5 142.0 L1071.0 343.1 L1071.6 174.2 L1072.2 342.4 L1072.7 136.3 L1073.0 131.0 L1073.0 350.2 L1073.2 337.5 L1073.8 144.6 L1074.3 307.5 L1074.9 158.9 L1075.5 330.8 L1076.0 123.4 L1076.0 118.3 L1076.0 342.2 L1076.5 341.4 L1077.1 145.8 L1077.7 339.8 L1078.2 142.6 L1078.8 341.2 L1079.0 112.3 L1079.0 342.2 L1079.3 142.7 L1079.8 337.9 L1080.4 193.0 L1081.0 341.1 L1081.4 161.0 L1081.4 342.2 L1081.5 170.5 L1082.0 342.2 L1082.6 207.0 L1083.2 344.3 L1083.7 186.3 L1084.0 180.0 L1084.0 352.2 L1084.2 345.1 L1084.8 201.0 L1085.3 337.4 L1085.9 214.8 L1086.5 341.5 L1087.0 220.0 L1087.0 201.0 L1087.0 352.2 L1087.5 345.2 L1088.1 246.0 L1088.7 342.0 L1089.2 267.0 L1089.8 342.9 L1090.3 282.6 L1090.8 351.2 L1091.4 282.3 L1092.0 363.7 L1092.0 280.0 L1092.0 368.2 L1092.5 281.9 L1093.0 354.6 L1093.6 301.2 L1094.2 354.0 L1094.7 295.1 L1095.2 359.7 L1095.8 287.5 L1096.0 282.0 L1096.0 368.2 L1096.3 367.6 L1096.9 299.6 L1097.5 366.0 L1098.0 310.6 L1098.5 368.1 L1099.1 308.3 L1099.7 374.4 L1100.0 304.0 L1100.0 380.2 L1100.2 307.7 L1100.8 376.9 L1101.3 320.9 L1101.8 376.1 L1102.4 314.2 L1103.0 380.0 L1103.0 312.0 L1103.0 380.2 L1103.5 313.4 L1104.0 380.2 L1104.6 321.6 L1105.2 380.6 L1105.7 313.8 L1106.0 314.0 L1106.0 381.4 L1106.2 380.9 L1106.8 316.1 L1107.3 379.0 L1107.9 316.3 L1108.5 377.7 L1109.0 308.0 L1109.0 304.0 L1109.0 380.2 L1109.5 379.4 L1110.1 314.7 L1110.7 378.3 L1111.2 322.3 L1111.8 377.7 L1112.3 319.6 L1112.8 380.5 L1113.0 314.0 L1113.0 381.4 L1113.4 324.7 L1114.0 381.4 L1114.5 337.0 L1115.0 381.4 L1115.6 332.5 L1116.0 334.0 L1116.0 381.4 L1116.2 380.8 L1116.7 334.9 L1117.2 374.8 L1117.8 333.6 L1118.3 374.2 L1118.9 321.5 L1119.0 312.0 L1119.0 380.2 L1119.5 368.4 L1120.0 317.1 L1120.5 361.5 L1121.1 318.3 L1121.7 358.5 L1122.2 310.1 L1122.8 369.6 L1123.0 302.0 L1123.0 372.2 L1123.3 308.0 L1123.8 364.9 L1124.4 317.6 L1125.0 370.3 L1125.5 314.3 L1126.0 314.0 L1126.0 380.2 L1126.0 377.1 L1126.6 315.3 L1127.2 379.1 L1127.7 323.5 L1128.2 372.8 L1128.8 325.8 L1129.3 370.1 L1129.9 318.9 L1130.5 376.5 L1131.0 315.6 L1131.0 312.0 L1131.0 380.2 L1131.5 371.2 L1132.1 327.4 L1132.7 378.1 L1133.0 318.0 L1133.0 381.4 L1133.2 317.2 L1133.8 380.4 L1134.3 320.9 L1134.8 373.7 L1135.4 317.3 L1136.0 369.3 L1136.5 310.7 L1137.0 372.8 L1137.4 301.0 L1137.4 380.2 L1137.6 305.0 L1138.2 372.7 L1138.7 314.0 L1139.2 370.5 L1139.8 319.4 L1140.3 376.8 L1140.9 320.0 L1141.5 376.3 L1142.0 326.9 L1142.0 314.0 L1142.0 380.2 L1142.4 373.1 L1142.4 324.0 L1142.4 372.2 M1153.8 302.3 L1153.8 304.0 L1153.8 362.2 L1154.4 365.6 L1154.6 264.0 L1154.6 372.2 L1154.9 281.6 L1155.5 364.4 L1156.0 299.5 L1156.6 369.7 L1157.1 306.2 L1157.7 376.6 L1158.0 304.0 L1158.0 381.4 L1158.2 303.7 L1158.8 379.8 L1159.3 311.2 L1159.9 380.0 L1160.4 309.4 L1161.0 381.0 L1161.0 300.0 L1161.0 381.4 L1161.5 320.9 L1162.1 373.9 L1162.4 333.2 L1162.4 334.0 L1162.4 380.2 M1198.0 246.9 L1198.0 234.0 L1198.0 226.0 L1198.0 352.2 L1198.0 366.2 L1198.5 365.3 L1199.0 224.0 L1199.0 366.2 L1199.1 234.6 L1199.7 362.8 L1200.2 231.0 L1200.8 364.7 L1201.3 220.4 L1201.8 366.6 L1202.0 206.0 L1202.0 367.2 L1202.4 211.3 L1203.0 358.6 L1203.5 241.3 L1204.0 360.4 L1204.6 214.7 L1205.0 216.0 L1205.0 380.2 L1205.2 371.5 L1205.7 221.2 L1206.2 355.1 L1206.8 230.5 L1207.3 354.7 L1207.9 198.4 L1208.0 185.0 L1208.0 366.2 L1208.5 356.9 L1209.0 208.9 L1209.5 337.1 L1210.1 203.7 L1210.7 359.3 L1211.0 176.0 L1211.0 368.2 L1211.2 179.0 L1211.8 360.8 L1212.3 226.3 L1212.8 367.8 L1213.0 172.0 L1213.0 370.2 L1213.4 173.6 L1214.0 331.6 L1214.5 212.2 L1215.0 337.1 L1215.6 178.7 L1216.0 171.0 L1216.0 372.2 L1216.2 368.7 L1216.7 194.5 L1217.2 350.5 L1217.8 225.2 L1218.3 357.0 L1218.9 199.0 L1219.0 200.0 L1219.0 372.2 L1219.5 357.0 L1220.0 218.8 L1220.5 363.0 L1221.1 217.6 L1221.7 375.9 L1222.0 191.0 L1222.0 381.4 L1222.2 194.0 L1222.8 378.4 L1223.3 240.3 L1223.8 370.3 L1224.4 228.5 L1225.0 363.7 L1225.5 190.2 L1226.0 186.7 L1226.0 380.2 L1226.0 379.2 L1226.6 194.9 L1227.2 368.2 L1227.7 223.2 L1228.2 372.1 L1228.8 214.3 L1229.3 377.9 L1229.9 195.8 L1230.0 196.0 L1230.0 381.4 L1230.5 379.7 L1231.0 217.8 L1231.5 374.7 L1232.1 188.2 L1232.6 170.0 L1232.6 380.2 L1232.7 379.1 L1233.2 191.6 L1233.8 360.0 L1234.3 213.3 L1234.8 377.7 L1235.0 191.0 L1235.0 380.2 L1235.4 196.7 L1236.0 358.7 L1236.5 226.8 L1237.0 368.0 L1237.6 201.0 L1238.0 201.7 L1238.0 380.2 L1238.2 375.9 L1238.7 205.8 L1239.2 358.0 L1239.8 219.8 L1240.3 374.1 L1240.9 195.6 L1241.0 191.0 L1241.0 380.2 L1241.5 380.2 L1242.0 217.6 L1242.5 380.2 L1243.0 181.7 L1243.0 380.2 L1243.1 194.2 L1243.7 380.2 L1244.2 220.3 L1244.8 380.2 L1245.0 201.0 L1245.0 380.2 L1245.3 200.5 L1245.8 367.1 L1246.4 223.4 L1247.0 371.9 L1247.5 221.9 L1248.0 375.0 L1248.6 197.0 L1248.6 195.0 L1248.6 380.2 L1249.2 369.6 L1249.7 211.1 L1250.2 356.7 L1250.8 218.4 L1251.3 347.6 L1251.9 180.2 L1252.0 171.0 L1252.0 362.2 L1252.5 355.0 L1253.0 187.8 L1253.5 348.3 L1254.1 184.0 L1254.7 359.8 L1255.0 165.0 L1255.0 364.2 L1255.2 171.5 L1255.8 354.1 L1256.3 207.0 L1256.8 341.4 L1257.4 205.4 L1258.0 346.1 L1258.5 187.9 L1258.6 181.7 L1258.6 368.2 L1259.0 362.1 L1259.6 209.7 L1260.2 345.3 L1260.7 233.3 L1261.2 349.5 L1261.8 207.5 L1262.0 201.0 L1262.0 370.2 L1262.3 348.3 L1262.9 241.7 L1263.2 329.8 L1263.2 218.0 L1263.2 342.2" stroke="#bfbf00" stroke-opacity="0.5" stroke-width="3.1"/>
<path d="M187.5 346.2 L187.5 344.2 L188.2 374.5 L188.6 381.0 L188.9 354.6 L189.6 374.5 L190.3 352.3 L191.0 369.5 L191.7 348.3 L192.4 362.7 L193.1 342.1 L193.8 353.8 L194.4 332.2 L194.5 337.0 L195.2 364.1 L195.6 372.0 L195.9 349.5 L196.6 366.8 L197.3 339.8 L198.0 363.3 L198.7 337.9 L199.4 363.0 L199.4 336.2 L200.1 342.5 L200.6 372.0 L200.8 370.3 L201.5 341.4 L202.2 363.2 L202.9 340.1 L203.6 361.1 L204.3 340.9 L204.4 340.2 L205.0 364.8 L205.6 375.0 L205.7 359.8 L206.4 370.3 L207.1 353.0 L207.8 363.9 L208.5 346.8 L209.2 359.9 L209.4 342.2 L209.9 350.2 L210.6 377.0 L210.6 378.0 L211.3 355.8 L212.0 371.8 L212.7 350.4 L213.4 371.2 L214.1 347.4 L214.4 347.2 L214.8 375.2 L215.5 354.1 L215.6 380.0 L216.2 376.5 L216.9 352.1 L217.6 370.8 L218.3 348.5 L219.0 365.5 L219.4 341.2 L219.7 347.5 L220.4 374.3 L220.6 380.0 L221.1 355.1 L221.8 372.9 L222.5 351.1 L223.2 366.4 L223.9 346.6 L224.4 344.2 L224.6 359.8 L225.3 356.7 L225.6 372.0 L226.0 368.3 L226.7 350.3 L227.4 363.5 L228.1 341.2 L228.8 359.1 L229.4 332.2 L229.5 338.6 L230.2 362.7 L230.6 368.0 L230.9 347.6 L231.6 356.3 L232.3 331.2 L232.4 325.2 L233.0 358.1 L233.6 371.0 L233.7 344.4 L234.4 350.8 L234.4 326.2 L235.1 335.3 L235.6 370.0 L235.8 363.8 L236.5 331.6 L237.2 357.7 L237.9 323.1 L238.6 347.2 L239.3 310.5 L239.4 299.2 L240.0 348.6 L240.6 360.0 L240.7 328.6 L241.4 338.6 L242.1 310.7 L242.8 334.2 L243.5 315.2 L244.2 334.3 L244.4 314.2 L244.9 324.4 L245.6 352.5 L245.6 369.0 L246.3 314.8 L246.4 292.2 L247.0 334.6 L247.7 299.2 L248.4 318.2 L249.1 292.8 L249.4 291.2 L249.8 317.8 L250.5 305.4 L250.6 327.0 L251.2 319.8 L251.8 285.2 L251.9 292.1 L252.6 321.7 L253.0 328.0 L253.3 299.8 L254.0 316.1 L254.4 284.2 L254.7 295.5 L255.4 334.1 L255.6 342.0 L256.1 313.6 L256.8 336.2 L257.5 312.0 L258.2 337.3 L258.9 313.4 L259.4 311.2 L259.6 339.7 L260.3 321.9 L260.6 352.0 L261.0 343.3 L261.4 312.2 L261.7 322.0 L262.4 349.2 L262.6 352.0 L263.1 335.0 L263.8 344.2 L264.4 328.2 L264.5 331.1 L265.2 351.0 L265.6 358.0 L265.9 344.7 L266.6 356.5 L267.3 342.8 L268.0 353.9 L268.7 338.7 L269.4 348.2 L269.4 334.2 L270.1 345.3 L270.6 370.0 L270.8 366.9 L271.5 348.3 L272.2 356.6 L272.9 333.9 L273.6 345.4 L274.3 318.0 L274.4 303.2 L275.0 351.2 L275.6 366.0 L275.7 339.1 L276.4 351.7 L277.1 318.2 L277.8 347.1 L278.5 322.6 L279.2 348.8 L279.4 320.2 L279.9 329.1 L280.6 368.1 L280.6 376.0 L281.3 334.6 L282.0 354.9 L282.7 326.3 L283.4 344.4 L284.1 318.3 L284.4 314.2 L284.8 342.8 L285.5 332.7 L285.6 356.0 L286.2 353.4 L286.9 329.8 L287.6 350.2 L288.3 324.4 L289.0 338.2 L289.4 292.2 L289.7 304.8 L290.4 345.9 L290.6 352.0 L291.1 317.4 L291.8 345.6 L292.5 308.9 L293.2 336.4 L293.4 302.2 L293.9 312.9 L294.6 357.7 L294.6 364.0 L295.3 304.2 L295.4 300.2 L296.0 312.6 L296.4 201.2 L296.6 358.0 L296.7 303.1 L297.4 293.0 L297.4 168.2 L297.6 316.0 L298.1 235.7 L298.4 173.2 L298.6 314.0 L298.8 296.4 L299.5 219.0 L299.6 211.2 L299.6 315.0 L300.2 314.4 L300.8 316.0 L300.9 261.3 L301.2 190.2 L301.6 255.2 L302.2 216.2 L302.3 266.6 L302.4 316.0 L303.0 292.6 L303.2 254.2 L303.4 317.0 L303.7 289.4 L304.4 322.0 L304.4 332.0 L305.0 270.2 L305.1 278.0 L305.8 327.1 L306.2 338.0 L306.5 292.0 L306.8 278.2 L307.2 329.1 L307.9 319.2 L308.0 358.0 L308.6 348.9 L309.3 315.3 L309.4 312.2 L310.0 352.3 L310.6 374.0 L310.7 341.2 L311.4 366.8 L312.1 334.6 L312.8 363.4 L313.5 329.9 L314.2 353.6 L314.4 324.2 L314.9 332.5 L315.6 353.3 L315.6 380.0 L316.3 327.6 L316.4 323.2 L317.0 343.6 L317.6 352.0 L317.7 342.4 L318.4 346.5 L319.1 333.9 L319.4 330.2 L319.8 352.7 L320.5 353.2 L320.6 381.0 L321.2 371.5 L321.9 333.7 L322.4 307.2 L322.6 355.7 L323.3 330.4 L323.6 380.0 L324.0 358.5 L324.4 314.2 L324.7 318.0 L325.4 361.4 L325.6 368.0 L326.1 328.7 L326.8 351.9 L327.5 315.6 L328.2 341.9 L328.9 309.1 L329.4 302.2 L329.6 341.3 L330.3 316.4 L330.6 356.0 L331.0 350.4 L331.7 308.1 L332.4 341.9 L333.1 296.8 L333.4 284.2 L333.8 337.6 L334.5 309.6 L334.6 350.0 L335.2 343.2 L335.9 304.8 L336.4 298.2 L336.6 338.8 L337.3 323.5 L337.6 368.0 L338.0 361.3 L338.7 324.9 L339.4 346.5 L339.4 314.2 L340.1 329.9 L340.6 380.0 L340.8 372.9 L341.5 324.3 L342.2 350.0 L342.9 313.2 L343.6 346.3 L344.3 308.9 L344.4 304.2 L345.0 357.6 L345.6 372.0 L345.7 333.7 L346.4 360.9 L347.1 312.8 L347.8 346.9 L348.4 267.2 L348.5 287.4 L349.2 353.1 L349.6 376.0 L349.9 299.9 L350.6 348.1 L351.3 282.9 L352.0 332.9 L352.7 275.8 L353.4 320.7 L354.1 266.7 L354.4 262.2 L354.8 320.8 L355.5 278.9 L355.6 332.0 L356.2 329.0 L356.9 277.6 L357.6 322.8 L358.3 274.6 L359.0 313.9 L359.4 266.2 L359.7 284.7 L360.4 335.0 L360.6 342.0 L361.1 305.2 L361.8 336.7 L362.4 300.2 L362.5 302.0 L363.2 346.7 L363.6 358.0 L363.9 318.0 L364.6 340.7 L365.3 309.9 L366.0 325.5 L366.4 304.2 L366.7 317.2 L367.4 343.8 L367.6 348.0 L368.1 335.7 L368.8 344.1 L369.5 337.7 L370.2 344.9 L370.4 334.2 L370.9 341.4 L371.6 368.1 L371.6 372.0 L372.3 348.3 L373.0 356.6 L373.4 330.2 L373.7 338.6 L374.4 363.6 L374.6 380.0 L375.1 338.7 L375.8 350.4 L376.4 329.2 L376.5 331.0 L377.2 351.2 L377.6 356.0 L377.9 338.5 L378.6 349.8 L379.3 334.2 L380.0 342.2 L380.7 327.5 L381.4 336.2 L381.4 318.2 L382.1 329.6 L382.6 352.0 L382.8 350.3 L383.5 327.5 L384.2 342.9 L384.4 320.2 L384.9 324.6 L385.6 347.9 L385.6 361.0 L386.3 324.3 L387.0 334.2 L387.7 307.1 L388.4 321.3 L388.4 279.2 L389.1 300.1 L389.6 332.0 L389.8 331.2 L390.5 301.0 L391.2 321.2 L391.9 297.3 L392.4 290.2 L392.6 318.3 L393.3 316.8 L393.6 344.0 L394.0 339.5 L394.7 318.2 L395.4 335.2 L396.1 315.6 L396.4 312.2 L396.8 337.6 L397.5 325.7 L397.6 354.0 L398.2 342.1 L398.9 315.1 L399.4 310.2 L399.6 336.5 L400.3 315.6 L400.6 344.0 L401.0 341.9 L401.7 316.5 L402.4 334.8 L403.1 309.2 L403.8 325.6 L404.4 292.2 L404.5 300.8 L405.2 327.4 L405.6 342.0 L405.9 311.1 L406.6 318.6 L407.3 291.1 L407.4 282.2 L408.0 318.1 L408.6 328.0 L408.7 305.6 L409.4 321.3 L410.1 298.6 L410.4 292.2 L410.8 324.0 L411.5 322.5 L411.6 352.0 L412.2 339.8 L412.9 310.7 L413.6 330.3 L414.3 304.8 L414.4 304.2 L415.0 331.5 L415.6 340.0 L415.7 316.6 L416.4 333.3 L417.1 310.6 L417.8 322.2 L418.4 300.2 L418.5 304.6 L419.2 327.6 L419.6 336.0 L419.9 318.4 L420.6 325.3 L421.3 300.2 L421.4 296.2 L422.0 329.5 L422.6 342.0 L422.7 313.6 L423.4 338.3 L424.1 312.2 L424.8 329.8 L425.5 309.4 L426.2 319.0 L426.4 302.2 L426.9 314.6 L427.6 343.5 L427.6 346.0 L428.3 318.7 L429.0 335.6 L429.4 306.2 L429.7 312.4 L430.4 351.7 L430.6 360.0 L431.1 322.9 L431.8 352.5 L432.5 319.4 L433.2 342.4 L433.4 314.2 L433.9 324.2 L434.6 362.6 L434.6 364.0 L435.3 335.2 L436.0 350.6 L436.7 321.2 L437.4 333.3 L437.4 308.2 L438.1 332.5 L438.6 376.0 L438.8 356.3 L439.5 323.0 L440.2 324.2 L440.4 281.2 L440.9 307.7 L441.6 348.7 L441.6 352.0 L442.3 315.8 L443.0 328.5 L443.7 306.7 L444.4 327.7 L444.4 306.2 L445.1 317.2 L445.6 350.0 L445.8 343.2 L446.5 319.7 L447.2 339.8 L447.9 312.7 L448.6 335.8 L449.3 294.7 L449.4 284.2 L450.0 328.4 L450.6 338.0 L450.7 302.9 L451.4 328.1 L452.1 287.1 L452.8 303.1 L453.4 239.2 L453.5 265.1 L454.2 317.4 L454.6 332.0 L454.9 285.3 L455.6 315.2 L456.3 257.7 L457.0 302.2 L457.4 234.2 L457.7 254.5 L458.4 330.7 L458.6 342.0 L459.1 285.7 L459.8 321.4 L460.5 276.8 L461.2 302.6 L461.4 264.2 L461.9 291.2 L462.6 341.3 L462.6 344.0 L463.3 303.9 L464.0 331.3 L464.4 292.2 L464.7 298.8 L465.4 346.8 L465.6 354.0 L466.1 317.5 L466.8 335.5 L467.5 301.0 L468.2 312.3 L468.4 270.2 L468.9 294.6 L469.6 350.1 L469.6 352.0 L470.3 301.4 L471.0 334.0 L471.7 287.7 L472.4 322.6 L472.4 278.2 L473.1 296.3 L473.6 350.0 L473.8 339.4 L474.5 300.7 L475.2 317.1 L475.9 278.0 L476.4 256.2 L476.6 300.4 L477.3 297.2 L477.6 338.0 L478.0 326.7 L478.7 283.0 L479.4 294.5 L479.4 262.2 L480.1 295.2 L480.6 342.0 L480.8 335.0 L481.5 300.0 L482.2 317.8 L482.9 288.7 L483.4 284.2 L483.6 319.2 L484.3 312.6 L484.6 344.0 L485.0 337.2 L485.7 312.4 L486.4 329.1 L486.4 304.2 L487.1 318.5 L487.6 356.0 L487.8 352.3 L488.5 320.2 L489.2 341.2 L489.4 312.2 L489.9 322.0 L490.6 361.3 L490.6 364.0 L491.3 331.3 L492.0 352.5 L492.7 322.1 L493.4 339.5 L494.1 309.5 L494.4 300.2 L494.8 342.5 L495.5 327.9 L495.6 362.0 L496.2 358.0 L496.9 328.2 L497.6 349.8 L498.3 323.5 L499.0 338.4 L499.4 314.2 L499.7 324.2 L500.4 362.8 L500.6 375.0 L501.1 340.1 L501.8 348.1 L502.5 315.9 L503.2 332.8 L503.9 301.8 L504.4 284.2 L504.6 332.4 L505.3 308.2 L505.6 356.0 L506.0 337.6 L506.4 284.2 L506.7 290.4 L507.4 341.7 L507.6 352.0 L508.1 301.1 L508.8 323.4 L509.4 270.2 L509.5 283.3 L510.2 330.7 L510.6 340.0 L510.9 304.9 L511.6 336.6 L512.3 302.2 L513.0 323.2 L513.7 288.0 L514.4 313.6 L514.4 280.2 L515.1 294.9 L515.6 348.0 L515.8 341.0 L516.5 295.3 L517.2 323.8 L517.9 279.1 L518.4 258.2 L518.6 309.2 L519.3 302.3 L519.6 338.0 L520.0 330.7 L520.7 298.6 L521.4 321.9 L521.4 290.2 L522.1 302.0 L522.6 352.0 L522.8 348.3 L523.5 296.1 L524.2 338.7 L524.4 264.2 L524.9 284.4 L525.6 358.3 L525.6 362.0 L526.3 275.0 L527.0 318.4 L527.0 141.2 L527.7 195.4 L528.0 291.9 L528.0 135.2 L528.0 137.2 L528.0 369.0 L528.0 369.0 L528.0 368.0 M644.8 292.4 L644.8 288.2 L644.8 286.2 L644.8 304.0 L644.8 312.0 L645.4 270.2 L645.5 303.3 L646.2 290.3 L646.6 324.0 L646.9 317.4 L647.6 280.0 L648.3 300.0 L648.4 268.2 L649.0 282.3 L649.6 331.0 L649.7 310.6 L650.4 275.6 L650.8 263.2 L651.1 295.7 L651.8 284.0 L652.0 310.0 L652.5 302.0 L653.2 267.7 L653.4 260.2 L653.9 305.8 L654.6 289.4 L654.6 330.0 L655.3 302.2 L655.8 272.2 L656.0 278.5 L656.7 309.9 L657.0 312.0 L657.4 290.7 L658.1 311.2 L658.8 290.0 L659.4 285.2 L659.5 316.5 L660.2 307.7 L660.6 352.0 L660.9 343.8 L661.6 312.2 L662.3 322.2 L662.4 298.2 L663.0 313.5 L663.6 366.0 L663.7 355.7 L664.4 308.7 L665.1 336.3 L665.4 291.2 L665.8 304.8 L666.5 349.9 L666.6 352.0 L667.2 319.2 L667.9 329.5 L668.6 286.7 L668.8 266.2 L669.3 326.5 L670.0 296.9 L670.0 356.0 L670.7 316.4 L671.4 273.8 L671.4 272.2 L672.1 319.0 L672.6 328.0 L672.8 291.8 L673.5 318.9 L674.2 280.1 L674.4 273.2 L674.9 323.9 L675.6 314.3 L675.6 350.0 L676.3 340.0 L677.0 300.0 L677.4 292.2 L677.7 323.8 L678.4 323.4 L678.6 352.0 L679.1 346.9 L679.8 305.0 L680.5 346.4 L681.2 278.5 L681.4 257.2 L681.9 346.2 L682.6 295.4 L682.6 371.0 L683.3 345.1 L684.0 278.9 L684.7 319.0 L685.4 263.4 L686.1 292.1 L686.4 243.2 L686.8 270.8 L687.5 336.3 L687.6 340.0 L688.2 293.6 L688.9 305.4 L689.4 264.2 L689.6 270.3 L690.3 329.6 L690.6 344.0 L691.0 296.0 L691.7 310.3 L692.0 228.2 L692.4 264.6 L693.1 333.8 L693.2 349.0 L693.8 268.7 L694.4 252.2 L694.5 302.9 L695.2 272.9 L695.6 334.0 L695.9 330.4 L696.6 272.5 L697.3 308.7 L697.8 229.2 L698.0 249.5 L698.7 336.1 L699.0 368.0 L699.4 296.7 L700.1 314.6 L700.8 271.1 L701.4 258.2 L701.5 294.4 L702.2 285.0 L702.6 336.0 L702.9 325.7 L703.6 270.6 L704.3 299.8 L704.4 238.2 L705.0 264.2 L705.6 332.0 L705.7 319.0 L706.4 258.2 L707.1 291.4 L707.8 231.1 L708.0 213.2 L708.5 292.0 L709.2 266.9 L709.2 314.0 L709.9 305.9 L710.6 262.0 L711.3 295.7 L712.0 256.6 L712.4 251.2 L712.7 296.2 L713.4 286.1 L713.6 332.0 L714.1 318.6 L714.8 267.6 L715.5 320.8 L716.2 258.5 L716.4 256.2 L716.9 324.9 L717.6 282.9 L717.6 342.0 L718.3 325.7 L719.0 277.9 L719.7 310.5 L720.4 267.7 L721.1 293.2 L721.4 239.2 L721.8 258.6 L722.5 314.6 L722.6 324.0 L723.2 266.6 L723.9 300.4 L724.4 254.2 L724.6 261.7 L725.3 312.7 L725.6 316.0 L726.0 278.5 L726.7 307.6 L727.4 280.5 L727.4 268.2 L728.1 320.8 L728.6 332.0 L728.8 312.7 L729.5 330.2 L730.0 314.2 L730.2 321.2 L730.9 346.2 L731.2 358.0 L731.6 335.9 L732.3 350.1 L732.4 330.2 L733.0 339.1 L733.6 381.0 L733.7 374.8 L734.4 348.9 L735.1 367.8 L735.8 339.4 L736.4 332.2 L736.5 359.9 L737.2 358.2 L737.6 381.0 L737.9 374.1 L738.6 362.0 L739.3 371.6 L739.4 361.2 L740.0 362.1 L740.6 375.0 L740.7 373.7 L741.4 361.0 L742.1 366.5 L742.4 334.2 L742.8 351.7 L743.5 371.3 L743.6 374.0 L744.2 344.7 L744.9 353.9 L744.9 326.2 L745.6 343.4 L746.1 376.0 L746.3 369.4 L747.0 319.8 L747.3 201.2 L747.7 333.0 L748.4 241.3 L748.4 195.2 L748.5 375.0 L749.1 338.4 L749.6 375.0 L749.7 211.2 L749.8 256.1 L750.5 311.0 L750.9 284.2 L750.9 339.0 L751.2 314.6 L751.9 335.3 L752.1 337.0 L752.6 304.7 L752.7 301.2 L753.3 327.5 L753.9 337.0 L754.0 315.4 L754.4 297.2 L754.7 325.7 L755.4 316.3 L755.4 315.2 L755.6 344.0 L756.1 342.7 L756.6 380.0 L756.8 319.7 L757.4 299.2 L757.5 339.1 L758.2 312.8 L758.6 344.0 L758.9 338.8 L759.4 297.2 L759.6 301.7 L760.3 341.5 L760.6 350.0 L761.0 311.6 L761.7 328.5 L761.9 257.2 L762.4 290.8 L763.1 349.3 L763.1 350.0 L763.4 276.2 L763.8 296.6 L764.5 345.5 L764.6 350.0 L765.2 294.1 L765.2 292.2 L765.9 330.8 L766.4 349.0 L766.6 313.8 L767.3 322.5 L768.0 289.2 L768.1 276.7 L768.7 318.7 L769.3 334.0 L769.4 314.0 L770.0 301.2 L770.1 310.8 L770.8 307.3 L771.2 327.0 L771.5 314.3 L771.7 234.2 L772.2 285.7 L772.4 215.2 L772.9 307.8 L772.9 325.0 L773.4 215.2 L773.6 273.0 L773.6 319.0 L774.3 307.2 L774.6 310.0 L774.7 191.2 L775.0 230.1 L775.7 298.8 L775.9 309.0 L776.4 197.9 L776.4 177.5 L777.1 259.2 L777.4 201.2 L777.6 309.0 L777.8 268.6 L778.0 237.2 L778.5 305.1 L778.6 311.0 L778.9 267.2 L779.2 291.9 L779.2 329.0 L779.9 331.5 L780.1 359.0 L780.4 284.2 L780.6 292.9 L781.3 350.3 L781.6 362.0 L782.0 322.0 L782.7 345.0 L783.4 306.7 L783.7 301.2 L784.1 338.2 L784.8 335.4 L784.9 363.0 L785.5 350.6 L786.2 315.9 L786.9 326.7 L786.9 302.2 L787.6 324.0 L788.1 365.0 L788.3 359.0 L789.0 316.5 L789.7 354.3 L790.4 310.8 L791.1 349.2 L791.1 307.2 L791.8 321.5 L792.3 378.0 L792.5 370.6 L793.2 324.0 L793.9 350.8 L794.4 301.2 L794.6 308.6 L795.3 356.9 L795.6 371.0 L796.0 316.3 L796.7 346.6 L797.4 302.8 L797.7 295.9 L798.1 337.3 L798.8 319.4 L798.9 354.0 L799.5 343.4 L800.2 304.3 L800.9 320.7 L801.4 261.7 L801.6 285.1 L802.3 337.4 L802.6 347.0 L803.0 316.4 L803.7 338.1 L804.4 302.1 L804.4 301.2 L805.1 340.6 L805.6 354.0 L805.8 325.9 L806.5 340.3 L807.2 306.9 L807.7 287.2 L807.9 326.9 L808.6 319.0 L808.9 359.0 L809.3 352.9 L810.0 320.1 L810.7 341.6 L811.4 296.3 L811.4 294.2 L812.1 346.0 L812.6 362.0 L812.8 319.9 L813.5 346.0 L814.2 301.4 L814.9 332.0 L815.6 285.4 L816.0 269.2 L816.3 325.0 L817.0 300.4 L817.2 352.0 L817.7 346.5 L818.4 292.7 L819.1 338.9 L819.8 285.9 L820.4 281.2 L820.5 336.6 L821.2 294.4 L821.6 352.0 L821.9 348.2 L822.6 305.1 L823.3 346.1 L824.0 307.2 L824.7 337.0 L825.4 294.8 L825.4 294.2 L826.1 349.5 L826.6 365.0 L826.8 320.6 L827.5 355.6 L828.2 310.7 L828.9 343.3 L829.6 299.7 L830.3 337.9 L830.4 291.2 L831.0 303.6 L831.6 352.0 L831.7 349.8 L832.4 310.5 L833.1 340.7 L833.8 304.9 L834.4 298.2 L834.5 328.8 L835.2 316.6 L835.6 358.0 L835.9 349.4 L836.6 316.5 L837.3 332.4 L838.0 292.3 L838.7 314.6 L838.8 263.2 L839.4 294.3 L840.0 350.0 L840.1 346.2 L840.8 291.2 L841.5 325.2 L842.2 270.8 L842.4 265.2 L842.9 324.5 L843.6 302.5 L843.6 348.0 L844.3 316.0 L844.4 276.2 L845.0 288.4 L845.6 338.0 L845.7 332.2 L846.4 292.4 L847.1 311.5 L847.8 269.7 L848.0 251.2 L848.5 309.6 L849.2 299.1 L849.2 330.0 L849.9 314.6 L850.6 280.6 L851.3 298.6 L851.4 268.2 L852.0 287.7 L852.6 334.0 L852.7 328.6 L853.4 286.7 L854.1 304.1 L854.4 247.2 L854.8 270.5 L855.5 329.6 L855.6 335.0 L856.2 293.1 L856.9 307.6 L857.4 270.2 L857.6 279.1 L858.3 326.5 L858.6 338.0 L859.0 308.3 L859.7 332.3 L860.4 301.7 L861.1 312.5 L861.4 260.2 L861.8 278.4 L862.5 335.3 L862.6 340.0 L863.2 288.0 L863.9 314.5 L864.6 249.9 L864.8 224.2 L865.3 310.8 L866.0 293.8 L866.0 348.0 L866.7 319.8 L867.4 247.4 L867.4 244.2 L868.1 328.5 L868.6 357.0 L868.8 287.1 L869.4 230.2 L869.5 295.1 L870.2 284.6 L870.6 350.0 L870.9 331.4 L871.6 276.6 L872.3 293.3 L872.4 250.2 L873.0 277.2 L873.6 341.0 L873.7 334.5 L874.4 276.7 L875.1 303.3 L875.4 240.2 L875.8 263.6 L876.5 337.1 L876.6 340.0 L877.2 282.2 L877.9 330.7 L878.4 272.2 L878.6 277.0 L879.3 338.9 L879.6 346.0 L880.0 285.9 L880.7 336.3 L881.4 274.2 L881.8 263.2 L882.1 332.5 L882.8 285.4 L883.0 350.0 L883.5 339.4 L884.2 280.9 L884.9 315.0 L885.4 260.2 L885.6 270.4 L886.3 320.7 L886.6 344.0 L887.0 297.3 L887.7 307.9 L888.4 267.9 L889.1 273.2 L889.8 231.9 L889.8 209.2 L890.5 287.4 L891.0 312.0 L891.2 265.4 L891.9 289.2 L892.6 244.6 L893.3 283.4 L893.4 236.2 L894.0 261.7 L894.6 304.0 L894.7 300.9 L895.4 263.8 L895.4 262.2 L896.1 298.0 L896.6 310.0 L896.8 281.5 L897.5 300.5 L898.2 256.6 L898.4 229.2 L898.9 305.1 L899.6 276.9 L899.6 332.0 L900.3 322.9 L901.0 270.0 L901.4 264.2 L901.7 324.6 L902.4 289.3 L902.6 352.0 L903.1 345.3 L903.8 286.0 L904.4 276.2 L904.5 332.3 L905.2 290.5 L905.6 354.0 L905.9 348.7 L906.6 289.5 L907.3 319.6 L907.8 235.2 L908.0 263.1 L908.7 337.9 L909.0 352.0 L909.4 292.4 L910.0 256.2 L910.1 311.9 L910.8 309.1 L911.2 352.0 L911.5 344.8 L912.2 309.7 L912.4 304.2 L912.9 345.6 L913.6 325.1 L913.6 362.0 L914.3 349.9 L915.0 315.3 L915.4 310.2 L915.7 340.1 L916.4 331.7 L916.6 356.0 L917.1 351.3 L917.8 332.8 L918.5 343.7 L919.2 327.8 L919.9 340.8 L920.4 322.2 L920.6 331.6 L921.3 360.6 L921.6 368.0 L922.0 349.1 L922.7 357.0 L923.4 351.0 L924.1 361.6 L924.4 352.2 L924.8 358.2 L925.5 376.4 L925.6 380.0 L926.2 367.2 L926.9 374.1 L927.6 361.0 L928.3 372.2 L928.4 358.2 L929.0 362.8 L929.6 381.0 L929.7 379.9 L930.4 361.8 L931.1 375.0 L931.4 355.2 L931.8 359.7 L932.5 379.9 L932.6 381.0 L933.2 364.6 L933.9 376.7 L934.4 362.2 L934.6 363.4 L935.3 379.3 L935.6 381.0 L936.0 367.9 L936.7 377.9 L937.4 363.5 L938.1 371.7 L938.4 352.2 L938.8 360.0 L939.5 378.8 L939.6 381.0 L940.2 366.2 L940.9 378.7 L941.6 366.2 L942.3 371.2 L942.4 356.2 L943.0 361.6 L943.6 381.0 L943.7 379.8 L944.4 363.4 L945.1 378.2 L945.8 361.7 L946.4 358.2 L946.5 371.6 L947.2 365.8 L947.6 381.0 L947.9 379.4 L948.6 362.8 L949.3 371.3 L950.0 343.8 L950.0 328.2 L950.7 374.9 L951.2 381.0 L951.4 350.3 L952.1 374.4 L952.8 355.0 L953.5 366.0 L954.2 347.5 L954.4 344.2 L954.9 364.5 L955.6 364.9 L955.6 376.0 L956.3 375.3 L957.0 365.9 L957.7 371.1 L958.4 352.7 L958.4 352.2 L959.1 372.1 L959.6 381.0 L959.8 368.7 L960.5 378.3 L961.2 366.1 L961.9 377.5 L962.6 356.1 L963.3 366.8 L963.4 346.2 L964.0 359.2 L964.6 381.0 L964.7 380.6 L965.4 365.3 L966.1 379.0 L966.8 368.7 L967.4 368.2 L967.5 379.9 L968.2 368.8 L968.6 381.0 L968.9 380.2 L969.6 368.7 L970.3 379.3 L971.0 366.3 L971.4 363.2 L971.7 378.5 L972.4 367.5 L972.6 381.0 L973.1 379.5 L973.8 362.6 L974.5 369.3 L974.8 335.2 L975.2 352.4 L975.9 378.3 L976.0 381.0 L976.6 361.4 L977.3 376.8 L978.0 361.8 L978.4 360.2 L978.7 378.4 L979.4 366.9 L979.6 381.0 L980.1 380.4 L980.8 368.6 L981.4 368.2 L981.5 379.6 L982.2 368.6 L982.6 381.0 L982.9 380.4 L983.6 367.6 L984.3 378.4 L985.0 360.5 L985.0 352.2 L985.7 378.1 L986.2 381.0 L986.4 365.2 L987.1 378.3 L987.8 365.5 L988.4 364.2 L988.5 377.0 L989.2 366.8 L989.6 381.0 L989.9 380.2 L990.6 366.2 L991.3 372.3 L991.4 356.2 L992.0 365.4 L992.6 381.0 L992.7 379.8 L993.4 365.5 L994.1 365.6 L994.8 340.6 L994.8 319.2 L995.5 368.4 L996.0 381.0 L996.2 356.3 L996.9 369.1 L997.4 342.2 L997.6 348.2 L998.3 376.2 L998.6 381.0 L999.0 358.2 L999.7 375.4 L1000.4 352.8 L1000.4 352.2 L1001.1 378.3 L1001.6 381.0 L1001.8 358.3 L1002.5 377.2 L1003.2 346.4 L1003.4 328.2 L1003.9 371.9 L1004.6 347.4 L1004.6 381.0 L1005.3 370.5 L1006.0 322.5 L1006.0 306.2 L1006.7 362.6 L1007.2 380.0 L1007.4 331.5 L1008.1 355.6 L1008.8 319.3 L1009.5 334.0 L1010.2 306.2 L1010.4 299.2 L1010.9 339.8 L1011.6 320.5 L1011.6 352.0 L1012.3 350.8 L1013.0 312.8 L1013.7 351.8 L1014.4 307.2 L1015.1 346.5 L1015.4 302.2 L1015.8 312.4 L1016.5 364.6 L1016.6 371.0 L1017.2 332.1 L1017.9 360.2 L1018.6 328.4 L1019.3 344.3 L1019.4 320.2 L1020.0 337.8 L1020.6 380.0 L1020.7 375.1 L1021.4 340.5 L1022.1 353.3 L1022.4 319.2 L1022.8 331.1 L1023.5 375.5 L1023.6 380.0 L1024.2 338.9 L1024.9 354.8 L1025.4 305.2 L1025.6 320.0 L1026.3 366.1 L1026.6 378.0 L1027.0 326.8 L1027.7 348.4 L1028.4 295.1 L1029.1 338.2 L1029.4 268.2 L1029.8 293.4 L1030.5 359.0 L1030.6 369.0 L1031.2 305.9 L1031.9 337.6 L1032.6 279.4 L1033.3 311.6 L1033.4 250.2 L1034.0 279.6 L1034.6 363.0 L1034.7 352.9 L1035.4 275.7 L1036.1 318.4 L1036.4 239.2 L1036.8 256.2 L1037.5 331.5 L1037.6 352.0 L1038.0 181.9 L1038.2 246.3 L1038.9 326.1 L1039.2 336.0 L1039.6 224.5 L1040.3 287.5 L1040.8 178.5 L1041.0 203.2 L1041.7 312.7 L1042.0 334.0 L1042.4 266.5 L1043.1 300.5 L1043.8 244.5 L1044.4 225.2 L1044.5 279.5 L1045.2 267.8 L1045.6 335.0 L1045.9 325.4 L1046.6 274.9 L1047.3 303.2 L1048.0 234.0 L1048.4 220.2 L1048.7 291.8 L1049.4 269.2 L1049.6 338.0 L1050.1 325.9 L1050.8 252.8 L1051.5 297.4 L1052.2 213.1 L1052.4 191.9 L1052.9 306.4 L1053.6 259.1 L1053.6 341.0 L1054.3 320.0 L1055.0 241.9 L1055.7 294.9 L1056.4 219.1 L1056.4 216.2 L1057.1 307.9 L1057.6 338.0 L1057.8 274.5 L1058.5 286.2 L1058.8 213.5 L1059.2 242.7 L1059.9 333.7 L1060.0 342.0 L1060.6 256.3 L1061.3 295.9 L1061.4 223.2 L1062.0 247.5 L1062.6 349.0 L1062.7 331.9 L1063.4 248.9 L1064.1 306.1 L1064.8 213.8 L1065.4 178.5 L1065.5 282.4 L1066.2 214.2 L1066.6 320.0 L1066.9 303.9 L1067.6 222.7 L1068.3 271.3 L1069.0 204.2 L1069.4 193.5 L1069.7 258.6 L1070.4 255.7 L1070.6 300.0 L1071.1 284.9 L1071.8 235.5 L1072.4 219.2 L1072.5 258.4 L1073.2 243.8 L1073.6 298.0 L1073.9 289.7 L1074.6 239.5 L1075.3 248.7 L1075.4 200.2 L1076.0 237.3 L1076.6 300.0 L1076.7 296.4 L1077.4 241.0 L1078.1 258.5 L1078.4 211.9 L1078.8 235.9 L1079.5 296.9 L1079.6 302.0 L1080.2 246.8 L1080.8 226.2 L1080.9 268.2 L1081.6 256.8 L1082.0 309.0 L1082.3 299.7 L1083.0 245.9 L1083.4 234.2 L1083.7 286.8 L1084.4 274.8 L1084.6 322.0 L1085.1 310.5 L1085.8 264.2 L1086.4 248.2 L1086.5 294.7 L1087.2 288.3 L1087.6 336.0 L1087.9 328.7 L1088.6 298.5 L1089.3 319.4 L1090.0 307.1 L1090.7 324.1 L1091.4 314.9 L1091.4 314.2 L1092.1 335.8 L1092.6 342.0 L1092.8 320.9 L1093.5 340.1 L1094.2 316.5 L1094.9 336.9 L1095.4 307.2 L1095.6 315.5 L1096.3 348.8 L1096.6 358.0 L1097.0 339.5 L1097.7 350.3 L1098.4 334.2 L1099.1 348.0 L1099.4 330.2 L1099.8 334.4 L1100.5 361.4 L1100.6 364.0 L1101.2 335.6 L1101.9 358.8 L1102.4 329.2 L1102.6 333.6 L1103.3 364.7 L1103.6 372.0 L1104.0 347.3 L1104.7 360.5 L1105.4 335.6 L1105.4 334.2 L1106.1 365.6 L1106.6 380.0 L1106.8 353.9 L1107.5 361.6 L1108.2 331.9 L1108.4 320.2 L1108.9 360.3 L1109.6 345.4 L1109.6 372.0 L1110.3 366.0 L1111.0 339.6 L1111.7 363.3 L1112.4 339.6 L1112.4 334.2 L1113.1 371.2 L1113.6 376.0 L1113.8 353.1 L1114.5 372.6 L1115.2 354.5 L1115.4 354.2 L1115.9 369.6 L1116.6 356.6 L1116.6 380.0 L1117.3 364.4 L1118.0 348.5 L1118.4 330.2 L1118.7 355.9 L1119.4 343.6 L1119.6 362.0 L1120.1 354.3 L1120.8 336.3 L1121.5 348.4 L1122.2 327.6 L1122.4 322.2 L1122.9 345.5 L1123.6 338.7 L1123.6 352.0 L1124.3 347.3 L1125.0 335.3 L1125.4 332.2 L1125.7 348.1 L1126.4 348.6 L1126.6 369.0 L1127.1 362.6 L1127.8 346.1 L1128.5 354.7 L1129.2 336.3 L1129.9 351.3 L1130.4 329.2 L1130.6 332.9 L1131.3 360.1 L1131.6 362.0 L1132.0 338.8 L1132.4 334.2 L1132.7 354.6 L1133.4 347.9 L1133.6 372.0 L1134.1 363.7 L1134.8 342.6 L1135.5 353.8 L1136.2 328.5 L1136.8 313.2 L1136.9 347.9 L1137.6 328.5 L1138.0 362.0 L1138.3 358.5 L1139.0 333.7 L1139.7 353.5 L1140.4 336.3 L1141.1 348.6 L1141.4 334.2 L1141.8 340.6 L1142.4 354.4 L1142.4 338.2 L1142.4 358.0 L1142.4 356.0 M1153.8 319.4 L1153.8 318.2 L1153.8 342.0 L1154.0 298.2 L1154.5 334.2 L1155.2 342.0 L1155.2 321.5 L1155.9 340.1 L1156.6 325.6 L1157.3 345.1 L1157.4 324.2 L1158.0 330.8 L1158.6 369.0 L1158.7 363.7 L1159.4 336.3 L1160.1 356.8 L1160.4 328.2 L1160.8 338.9 L1161.5 366.4 L1161.6 370.0 L1162.2 349.2 L1162.4 362.2 L1162.4 344.2 L1162.4 368.0 M1198.0 303.7 L1198.0 292.2 L1198.0 284.2 L1198.0 322.0 L1198.0 332.0 L1198.4 261.2 L1198.7 318.2 L1199.4 287.7 L1199.6 338.0 L1200.1 332.5 L1200.8 263.3 L1201.4 225.2 L1201.5 323.2 L1202.2 266.0 L1202.6 343.0 L1202.9 336.9 L1203.6 281.4 L1204.3 332.7 L1204.4 278.2 L1205.0 288.1 L1205.6 360.0 L1205.7 338.3 L1206.4 290.2 L1207.1 307.6 L1207.4 251.2 L1207.8 277.8 L1208.5 322.8 L1208.6 332.0 L1209.2 280.1 L1209.9 294.5 L1210.4 240.2 L1210.6 252.7 L1211.3 305.7 L1211.6 322.0 L1212.0 262.3 L1212.4 234.2 L1212.7 281.9 L1213.4 275.3 L1213.6 312.0 L1214.1 298.6 L1214.8 253.2 L1215.4 227.2 L1215.5 271.3 L1216.2 273.9 L1216.6 332.0 L1216.9 317.8 L1217.6 269.0 L1218.3 310.0 L1218.4 264.2 L1219.0 280.9 L1219.6 341.0 L1219.7 337.4 L1220.4 288.4 L1221.1 319.7 L1221.4 274.2 L1221.8 292.5 L1222.5 353.2 L1222.6 378.0 L1223.2 315.9 L1223.9 324.7 L1224.6 282.0 L1225.3 297.9 L1225.4 253.2 L1226.0 281.6 L1226.6 340.0 L1226.7 335.9 L1227.4 282.8 L1228.1 322.1 L1228.8 263.7 L1229.4 250.2 L1229.5 320.9 L1230.2 284.6 L1230.6 379.0 L1230.9 347.8 L1231.6 259.5 L1232.0 213.2 L1232.3 317.4 L1233.0 282.3 L1233.2 352.0 L1233.7 330.8 L1234.4 257.7 L1234.4 254.2 L1235.1 329.7 L1235.6 350.0 L1235.8 291.4 L1236.5 324.5 L1237.2 250.7 L1237.4 228.2 L1237.9 320.4 L1238.6 272.2 L1238.6 344.0 L1239.3 333.4 L1240.0 256.6 L1240.4 254.2 L1240.7 334.7 L1241.4 275.1 L1241.6 363.0 L1242.1 336.2 L1242.4 229.2 L1242.8 257.9 L1243.5 340.6 L1243.6 352.0 L1244.2 262.4 L1244.4 252.2 L1244.9 323.0 L1245.6 286.7 L1245.6 344.0 L1246.3 330.0 L1247.0 269.3 L1247.7 313.9 L1248.0 249.2 L1248.4 270.0 L1249.1 341.9 L1249.2 369.0 L1249.8 269.8 L1250.5 312.5 L1251.2 248.6 L1251.4 241.2 L1251.9 311.8 L1252.6 264.3 L1252.6 322.0 L1253.3 312.7 L1254.0 247.6 L1254.4 236.2 L1254.7 305.9 L1255.4 261.2 L1255.6 324.0 L1256.1 318.7 L1256.8 254.7 L1257.5 309.7 L1258.0 242.2 L1258.2 254.0 L1258.9 322.3 L1259.2 331.0 L1259.6 268.6 L1260.3 318.4 L1261.0 271.0 L1261.4 264.2 L1261.7 308.9 L1262.4 289.6 L1262.6 326.0 L1263.1 308.8 L1263.2 291.9 L1263.2 284.2 L1263.2 314.0" stroke="#0000ff" stroke-width="3.1"/>
</g>
<line x1="195.50" y1="382.5" x2="195.50" y2="54" stroke="#000" stroke-width="3.1" stroke-dasharray="11.58 5.01" stroke-dashoffset="1"/>
<line x1="374.50" y1="382.5" x2="374.50" y2="54" stroke="#000" stroke-width="3.1" stroke-dasharray="11.58 5.01" stroke-dashoffset="1"/>
<line x1="553.50" y1="382.5" x2="553.50" y2="54" stroke="#000" stroke-width="3.1" stroke-dasharray="11.58 5.01" stroke-dashoffset="1"/>
<line x1="732.50" y1="382.5" x2="732.50" y2="54" stroke="#000" stroke-width="3.1" stroke-dasharray="11.58 5.01" stroke-dashoffset="1"/>
<line x1="911.50" y1="382.5" x2="911.50" y2="54" stroke="#000" stroke-width="3.1" stroke-dasharray="11.58 5.01" stroke-dashoffset="1"/>
<line x1="1090.50" y1="382.5" x2="1090.50" y2="54" stroke="#000" stroke-width="3.1" stroke-dasharray="11.58 5.01" stroke-dashoffset="1"/>
</g>
<text class="t10" x="200.30" y="94.6">09/23</text>
<text class="t10" x="379.30" y="94.6">09/24</text>
<text class="t10" x="558.30" y="94.6">09/25</text>
<text class="t10" x="737.30" y="94.6">09/26</text>
<text class="t10" x="916.30" y="94.6">09/27</text>
<text class="t10" x="1095.30" y="94.6">09/28</text>
<rect x="187.8" y="54" width="1162.1" height="328.9" fill="none" stroke="#000" stroke-width="1.9"/>
<line x1="187.50" y1="382.5" x2="187.50" y2="389.3" stroke="#000" stroke-width="1.6"/>
<text class="t14" x="187.50" y="412.5" text-anchor="middle">22</text>
<line x1="276.92" y1="382.5" x2="276.92" y2="389.3" stroke="#000" stroke-width="1.6"/>
<text class="t14" x="276.92" y="412.5" text-anchor="middle">10</text>
<line x1="366.35" y1="382.5" x2="366.35" y2="389.3" stroke="#000" stroke-width="1.6"/>
<text class="t14" x="366.35" y="412.5" text-anchor="middle">22</text>
<line x1="455.77" y1="382.5" x2="455.77" y2="389.3" stroke="#000" stroke-width="1.6"/>
<text class="t14" x="455.77" y="412.5" text-anchor="middle">10</text>
<line x1="545.19" y1="382.5" x2="545.19" y2="389.3" stroke="#000" stroke-width="1.6"/>
<text class="t14" x="545.19" y="412.5" text-anchor="middle">22</text>
<line x1="634.62" y1="382.5" x2="634.62" y2="389.3" stroke="#000" stroke-width="1.6"/>
<text class="t14" x="634.62" y="412.5" text-anchor="middle">10</text>
<line x1="724.04" y1="382.5" x2="724.04" y2="389.3" stroke="#000" stroke-width="1.6"/>
<text class="t14" x="724.04" y="412.5" text-anchor="middle">22</text>
<line x1="813.46" y1="382.5" x2="813.46" y2="389.3" stroke="#000" stroke-width="1.6"/>
<text class="t14" x="813.46" y="412.5" text-anchor="middle">10</text>
<line x1="902.88" y1="382.5" x2="902.88" y2="389.3" stroke="#000" stroke-width="1.6"/>
<text class="t14" x="902.88" y="412.5" text-anchor="middle">22</text>
<line x1="992.31" y1="382.5" x2="992.31" y2="389.3" stroke="#000" stroke-width="1.6"/>
<text class="t14" x="992.31" y="412.5" text-anchor="middle">10</text>
<line x1="1081.73" y1="382.5" x2="1081.73" y2="389.3" stroke="#000" stroke-width="1.6"/>
<text class="t14" x="1081.73" y="412.5" text-anchor="middle">22</text>
<line x1="1171.15" y1="382.5" x2="1171.15" y2="389.3" stroke="#000" stroke-width="1.6"/>
<text class="t14" x="1171.15" y="412.5" text-anchor="middle">10</text>
<line x1="1260.58" y1="382.5" x2="1260.58" y2="389.3" stroke="#000" stroke-width="1.6"/>
<text class="t14" x="1260.58" y="412.5" text-anchor="middle">22</text>
<line x1="1350.00" y1="382.5" x2="1350.00" y2="389.3" stroke="#000" stroke-width="1.6"/>
<text class="t14" x="1350.00" y="412.5" text-anchor="middle">10</text>
<line x1="180.7" y1="382.50" x2="187.5" y2="382.50" stroke="#000" stroke-width="1.6"/>
<line x1="1350" y1="382.50" x2="1356.8" y2="382.50" stroke="#000" stroke-width="1.6"/>
<text class="t14" x="173.1" y="390.40" text-anchor="end">0</text>
<text class="t14" x="1364.9" y="390.40">0.0</text>
<line x1="180.7" y1="300.38" x2="187.5" y2="300.38" stroke="#000" stroke-width="1.6"/>
<line x1="1350" y1="300.38" x2="1356.8" y2="300.38" stroke="#000" stroke-width="1.6"/>
<text class="t14" x="173.1" y="308.27" text-anchor="end">2</text>
<text class="t14" x="1364.9" y="308.27">4.5</text>
<line x1="180.7" y1="218.25" x2="187.5" y2="218.25" stroke="#000" stroke-width="1.6"/>
<line x1="1350" y1="218.25" x2="1356.8" y2="218.25" stroke="#000" stroke-width="1.6"/>
<text class="t14" x="173.1" y="226.15" text-anchor="end">4</text>
<text class="t14" x="1364.9" y="226.15">8.9</text>
<line x1="180.7" y1="136.12" x2="187.5" y2="136.12" stroke="#000" stroke-width="1.6"/>
<line x1="1350" y1="136.12" x2="1356.8" y2="136.12" stroke="#000" stroke-width="1.6"/>
<text class="t14" x="173.1" y="144.03" text-anchor="end">6</text>
<text class="t14" x="1364.9" y="144.03">13.4</text>
<line x1="180.7" y1="54.00" x2="187.5" y2="54.00" stroke="#000" stroke-width="1.6"/>
<line x1="1350" y1="54.00" x2="1356.8" y2="54.00" stroke="#000" stroke-width="1.6"/>
<text class="t14" x="173.1" y="61.90" text-anchor="end">8</text>
<text class="t14" x="1364.9" y="61.90">17.9</text>
<text class="t14" x="769" y="440.3" text-anchor="middle" xml:space="preserve" style="white-space:pre">09/22/25-09/28/25  Hours(UTC)</text>
<text class="t14" transform="translate(148.8,220.2) rotate(-90)" text-anchor="middle">m/s</text>
<text class="t14" transform="translate(1436,221) rotate(-90)" text-anchor="middle">mph</text>
<rect x="188.2" y="11.7" width="703.6" height="35.1" rx="2.8" ry="2.8" fill="#fff" fill-opacity="0.8" stroke="#ccc" stroke-width="1.6"/>
<line x1="195" y1="28.3" x2="240" y2="28.3" stroke="#bfbf00" stroke-opacity="0.5" stroke-width="3.1"/>
<text class="t14" x="254.0" y="35.1">10m Wind Speed (5s)</text>
<line x1="519" y1="28.3" x2="564" y2="28.3" stroke="#0000ff" stroke-width="3.1"/>
<text class="t14" x="577.9" y="35.1">2-minute Avg</text>
<rect x="758.9" y="21.0" width="42.5" height="14.2" fill="#d3d3d3" fill-opacity="0.5" stroke="#d3d3d3" stroke-opacity="0.5" stroke-width="1.39"/>
<text class="t14" x="818" y="35.1">NIGHT</text>
</svg></body></html>
